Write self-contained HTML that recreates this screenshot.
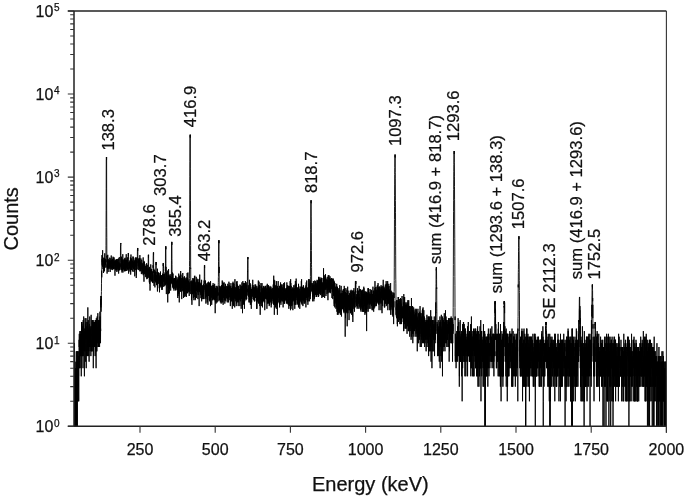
<!DOCTYPE html>
<html><head><meta charset="utf-8"><style>
html,body{margin:0;padding:0;background:#fff;overflow:hidden}
svg{display:block;filter:blur(0.35px)}
text{font-family:"Liberation Sans",sans-serif;fill:#111;stroke:#111;stroke-width:0.25px}
</style></head><body>
<svg width="685" height="498" viewBox="0 0 685 498">
<defs><clipPath id="pc"><rect x="74.0" y="11.0" width="592.4" height="416.0"/></clipPath></defs>
<g clip-path="url(#pc)"><polyline fill="none" stroke="#000" stroke-width="0.9" stroke-linejoin="round" points="74.00,376.3 74.06,386.7 74.12,376.3 74.18,368.2 74.24,426.3 74.30,376.3 74.36,426.3 74.42,343.2 74.48,376.3 74.54,386.7 74.60,401.3 74.66,386.7 74.72,401.3 74.78,386.7 74.84,386.7 74.90,376.3 74.96,376.3 75.02,386.7 75.08,386.7 75.14,376.3 75.20,426.3 75.26,368.2 75.32,401.3 75.38,386.7 75.44,376.3 75.50,401.3 75.56,401.3 75.62,376.3 75.68,386.7 75.74,426.3 75.80,386.7 75.86,361.7 75.93,376.3 75.99,376.3 76.05,426.3 76.11,368.2 76.17,386.7 76.23,356.1 76.29,351.3 76.35,401.3 76.41,426.3 76.47,401.3 76.53,361.7 76.59,368.2 76.65,386.7 76.71,401.3 76.77,401.3 76.83,426.3 76.89,386.7 76.95,386.7 77.01,368.2 77.07,351.3 77.13,368.2 77.19,351.3 77.25,368.2 77.31,426.3 77.37,386.7 77.43,368.2 77.49,368.2 77.55,368.2 77.61,386.7 77.67,401.3 77.73,361.7 77.79,386.7 77.85,368.2 77.91,368.2 77.97,351.3 78.03,361.7 78.09,401.3 78.15,368.2 78.21,368.2 78.27,386.7 78.33,376.3 78.39,376.3 78.45,386.7 78.51,361.7 78.57,376.3 78.63,356.1 78.69,376.3 78.75,401.3 78.81,368.2 78.87,351.3 78.93,351.3 78.99,356.1 79.05,368.2 79.11,361.7 79.17,339.8 79.23,347.0 79.29,333.8 79.35,368.2 79.41,343.2 79.47,339.8 79.53,343.2 79.59,361.7 79.66,339.8 79.72,336.7 79.78,351.3 79.84,343.2 79.90,331.1 79.96,356.1 80.02,347.0 80.08,351.3 80.14,339.8 80.20,351.3 80.26,336.7 80.32,351.3 80.38,343.2 80.44,333.8 80.50,356.1 80.56,347.0 80.62,339.8 80.68,333.8 80.74,331.1 80.80,336.7 80.86,368.2 80.92,336.7 80.98,356.1 81.04,333.8 81.10,351.3 81.16,343.2 81.22,347.0 81.28,376.3 81.34,347.0 81.40,331.1 81.46,339.8 81.52,322.0 81.58,356.1 81.64,333.8 81.70,347.0 81.76,343.2 81.82,343.2 81.88,324.1 81.94,333.8 82.00,322.0 82.06,347.0 82.12,356.1 82.18,333.8 82.24,331.1 82.30,328.6 82.36,356.1 82.42,351.3 82.48,347.0 82.54,343.2 82.60,326.3 82.66,356.1 82.72,331.1 82.78,331.1 82.84,333.8 82.90,326.3 82.96,347.0 83.02,368.2 83.08,333.8 83.14,351.3 83.20,320.1 83.26,333.8 83.32,356.1 83.38,356.1 83.45,351.3 83.51,328.6 83.57,343.2 83.63,347.0 83.69,316.5 83.75,333.8 83.81,347.0 83.87,333.8 83.93,343.2 83.99,328.6 84.05,336.7 84.11,331.1 84.17,333.8 84.23,336.7 84.29,336.7 84.35,368.2 84.41,376.3 84.47,333.8 84.53,343.2 84.59,351.3 84.65,331.1 84.71,336.7 84.77,339.8 84.83,339.8 84.89,328.6 84.95,331.1 85.01,331.1 85.07,318.2 85.13,331.1 85.19,331.1 85.25,347.0 85.31,351.3 85.37,333.8 85.43,336.7 85.49,324.1 85.55,339.8 85.61,343.2 85.67,361.7 85.73,343.2 85.79,328.6 85.85,339.8 85.91,322.0 85.97,336.7 86.03,318.2 86.09,336.7 86.15,356.1 86.21,368.2 86.27,331.1 86.33,331.1 86.39,339.8 86.45,356.1 86.51,351.3 86.57,351.3 86.63,326.3 86.69,328.6 86.75,333.8 86.81,336.7 86.87,336.7 86.93,333.8 86.99,333.8 87.05,347.0 87.11,322.0 87.18,324.1 87.24,331.1 87.30,336.7 87.36,343.2 87.42,343.2 87.48,324.1 87.54,356.1 87.60,322.0 87.66,333.8 87.72,339.8 87.78,339.8 87.84,307.4 87.90,351.3 87.96,347.0 88.02,339.8 88.08,343.2 88.14,331.1 88.20,339.8 88.26,320.1 88.32,339.8 88.38,333.8 88.44,336.7 88.50,339.8 88.56,351.3 88.62,343.2 88.68,356.1 88.74,328.6 88.80,328.6 88.86,339.8 88.92,328.6 88.98,347.0 89.04,343.2 89.10,361.7 89.16,326.3 89.22,333.8 89.28,331.1 89.34,324.1 89.40,336.7 89.46,339.8 89.52,333.8 89.58,343.2 89.64,347.0 89.70,347.0 89.76,316.5 89.82,343.2 89.88,343.2 89.94,331.1 90.00,336.7 90.06,331.1 90.12,351.3 90.18,336.7 90.24,339.8 90.30,326.3 90.36,343.2 90.42,339.8 90.48,343.2 90.54,343.2 90.60,328.6 90.66,347.0 90.72,339.8 90.78,351.3 90.84,351.3 90.90,356.1 90.97,336.7 91.03,336.7 91.09,326.3 91.15,314.8 91.21,324.1 91.27,336.7 91.33,328.6 91.39,326.3 91.45,351.3 91.51,343.2 91.57,339.8 91.63,339.8 91.69,336.7 91.75,333.8 91.81,336.7 91.87,351.3 91.93,343.2 91.99,322.0 92.05,320.1 92.11,333.8 92.17,333.8 92.23,351.3 92.29,331.1 92.35,347.0 92.41,322.0 92.47,326.3 92.53,336.7 92.59,322.0 92.65,320.1 92.71,343.2 92.77,339.8 92.83,336.7 92.89,347.0 92.95,347.0 93.01,331.1 93.07,339.8 93.13,328.6 93.19,320.1 93.25,343.2 93.31,368.2 93.37,339.8 93.43,331.1 93.49,322.0 93.55,343.2 93.61,333.8 93.67,356.1 93.73,343.2 93.79,331.1 93.85,322.0 93.91,333.8 93.97,322.0 94.03,324.1 94.09,333.8 94.15,343.2 94.21,343.2 94.27,328.6 94.33,347.0 94.39,322.0 94.45,333.8 94.51,333.8 94.57,343.2 94.63,322.0 94.70,324.1 94.76,347.0 94.82,333.8 94.88,331.1 94.94,347.0 95.00,326.3 95.06,343.2 95.12,333.8 95.18,320.1 95.24,356.1 95.30,339.8 95.36,328.6 95.42,326.3 95.48,336.7 95.54,324.1 95.60,320.1 95.66,343.2 95.72,336.7 95.78,339.8 95.84,322.0 95.90,331.1 95.96,351.3 96.02,339.8 96.08,368.2 96.14,331.1 96.20,333.8 96.26,347.0 96.32,318.2 96.38,324.1 96.44,322.0 96.50,343.2 96.56,343.2 96.62,351.3 96.68,324.1 96.74,328.6 96.80,351.3 96.86,343.2 96.92,320.1 96.98,343.2 97.04,343.2 97.10,326.3 97.16,316.5 97.22,324.1 97.28,336.7 97.34,328.6 97.40,339.8 97.46,326.3 97.52,333.8 97.58,343.2 97.64,336.7 97.70,331.1 97.76,339.8 97.82,313.2 97.88,318.2 97.94,326.3 98.00,328.6 98.06,347.0 98.12,331.1 98.18,322.0 98.24,347.0 98.30,326.3 98.36,320.1 98.42,333.8 98.49,343.2 98.55,347.0 98.61,331.1 98.67,331.1 98.73,322.0 98.79,343.2 98.85,336.7 98.91,333.8 98.97,320.1 99.03,343.2 99.09,328.6 99.15,336.7 99.21,333.8 99.27,333.8 99.33,324.1 99.39,328.6 99.45,333.8 99.51,333.8 99.57,347.0 99.63,324.1 99.69,336.7 99.75,336.7 99.81,320.1 99.87,328.6 99.93,311.7 99.99,331.1 100.05,316.5 100.11,336.7 100.17,320.1 100.23,331.1 100.29,328.6 100.35,328.6 100.41,322.0 100.47,339.8 100.53,343.2 100.59,328.6 100.65,331.1 100.71,310.2 100.77,300.2 100.83,304.8 100.89,299.1 100.95,307.4 101.01,296.0 101.07,311.7 101.13,296.0 101.19,300.2 101.25,297.0 101.31,295.1 101.37,294.1 101.43,291.5 101.49,283.8 101.55,278.0 101.61,276.8 101.67,270.6 101.73,277.4 101.79,271.0 101.85,265.2 101.91,260.2 101.97,255.1 102.03,261.7 102.09,258.8 102.15,265.6 102.22,261.7 102.28,261.3 102.34,263.6 102.40,262.8 102.46,261.3 102.52,264.8 102.58,265.6 102.64,250.2 102.70,266.9 102.76,264.8 102.82,264.4 102.88,261.7 102.94,264.4 103.00,269.1 103.06,264.8 103.12,263.6 103.18,261.3 103.24,264.4 103.30,262.0 103.36,261.3 103.42,262.4 103.48,266.5 103.54,273.0 103.60,265.2 103.66,257.7 103.72,263.6 103.78,260.5 103.84,263.2 103.90,265.2 103.96,262.0 104.02,260.2 104.08,267.3 104.14,269.6 104.20,271.5 104.26,259.1 104.32,260.9 104.38,266.0 104.44,266.0 104.50,271.0 104.56,264.8 104.62,258.1 104.68,265.2 104.74,253.3 104.80,258.4 104.86,264.8 104.92,266.9 104.98,264.0 105.04,263.6 105.10,262.0 105.16,267.8 105.22,258.8 105.28,263.6 105.34,261.7 105.40,263.2 105.46,264.8 105.52,264.0 105.58,262.0 105.64,263.6 105.70,261.3 105.76,259.5 105.82,261.7 105.88,260.5 105.94,262.0 106.01,245.3 106.07,227.7 106.13,210.4 106.19,188.4 106.25,160.0 106.31,160.0 106.37,157.3 106.43,157.0 106.49,160.0 106.55,160.0 106.61,157.0 106.67,205.0 106.73,227.9 106.79,237.4 106.85,257.4 106.91,256.1 106.97,267.3 107.03,264.4 107.09,273.6 107.15,255.5 107.21,265.2 107.27,265.2 107.33,268.2 107.39,259.8 107.45,268.2 107.51,263.6 107.57,265.2 107.63,264.4 107.69,266.9 107.75,254.8 107.81,263.6 107.87,258.8 107.93,260.9 107.99,269.1 108.05,259.1 108.11,272.0 108.17,260.9 108.23,264.4 108.29,268.2 108.35,267.3 108.41,263.2 108.47,264.4 108.53,262.8 108.59,268.2 108.65,266.5 108.71,266.5 108.77,260.2 108.83,264.0 108.89,266.5 108.95,262.8 109.01,264.4 109.07,266.0 109.13,264.4 109.19,266.9 109.25,260.5 109.31,265.2 109.37,262.4 109.43,260.2 109.49,262.4 109.55,266.9 109.61,260.5 109.67,268.7 109.74,257.7 109.80,264.0 109.86,265.2 109.92,266.9 109.98,260.5 110.04,265.2 110.10,266.9 110.16,272.0 110.22,261.7 110.28,265.2 110.34,262.4 110.40,262.4 110.46,264.8 110.52,262.8 110.58,263.2 110.64,261.3 110.70,267.3 110.76,258.4 110.82,269.1 110.88,268.2 110.94,262.4 111.00,261.7 111.06,264.4 111.12,262.4 111.18,258.8 111.24,255.5 111.30,259.8 111.36,268.2 111.42,267.3 111.48,264.4 111.54,259.8 111.60,262.0 111.66,269.6 111.72,264.8 111.78,265.2 111.84,264.4 111.90,264.8 111.96,260.5 112.02,267.8 112.08,261.3 112.14,266.5 112.20,264.4 112.26,266.5 112.32,266.5 112.38,260.5 112.44,268.2 112.50,266.0 112.56,258.8 112.62,261.3 112.68,270.1 112.74,260.5 112.80,265.2 112.86,262.0 112.92,259.5 112.98,260.9 113.04,256.7 113.10,264.4 113.16,268.7 113.22,262.4 113.28,267.8 113.34,264.0 113.40,260.5 113.46,257.7 113.53,269.1 113.59,263.2 113.65,263.2 113.71,262.0 113.77,266.0 113.83,266.0 113.89,262.8 113.95,268.7 114.01,263.6 114.07,257.4 114.13,265.6 114.19,268.7 114.25,263.2 114.31,262.8 114.37,264.8 114.43,263.2 114.49,265.6 114.55,260.9 114.61,262.8 114.67,263.2 114.73,261.3 114.79,261.3 114.85,266.9 114.91,270.1 114.97,275.7 115.03,262.4 115.09,259.5 115.15,264.4 115.21,261.7 115.27,260.2 115.33,263.6 115.39,269.6 115.45,262.8 115.51,266.0 115.57,268.2 115.63,264.8 115.69,260.9 115.75,264.4 115.81,266.9 115.87,270.6 115.93,266.0 115.99,264.8 116.05,262.4 116.11,268.7 116.17,262.8 116.23,264.0 116.29,260.5 116.35,261.3 116.41,259.8 116.47,265.6 116.53,270.1 116.59,270.1 116.65,263.2 116.71,259.5 116.77,270.1 116.83,259.1 116.89,272.0 116.95,262.4 117.01,265.2 117.07,260.5 117.13,268.7 117.19,263.2 117.26,268.7 117.32,261.3 117.38,264.0 117.44,263.6 117.50,261.7 117.56,261.3 117.62,262.0 117.68,266.9 117.74,259.1 117.80,262.0 117.86,261.3 117.92,270.6 117.98,267.8 118.04,263.6 118.10,265.2 118.16,267.8 118.22,265.6 118.28,260.5 118.34,260.9 118.40,258.4 118.46,261.7 118.52,266.0 118.58,263.6 118.64,273.6 118.70,268.2 118.76,262.4 118.82,262.8 118.88,270.6 118.94,262.0 119.00,268.2 119.06,266.5 119.12,269.1 119.18,264.4 119.24,268.7 119.30,257.1 119.36,262.4 119.42,265.6 119.48,265.6 119.54,266.5 119.60,263.6 119.66,267.8 119.72,270.1 119.78,267.3 119.84,270.1 119.90,264.4 119.96,266.0 120.02,265.2 120.08,265.6 120.14,263.6 120.20,264.4 120.26,267.3 120.32,266.0 120.38,262.4 120.44,255.8 120.50,246.0 120.56,246.0 120.62,246.0 120.68,243.0 120.74,243.0 120.80,243.5 120.86,243.0 120.92,259.5 120.98,258.8 121.05,264.0 121.11,269.1 121.17,267.8 121.23,260.2 121.29,267.8 121.35,262.0 121.41,267.8 121.47,270.1 121.53,256.7 121.59,264.0 121.65,267.3 121.71,257.7 121.77,260.2 121.83,267.8 121.89,263.2 121.95,272.5 122.01,260.9 122.07,260.2 122.13,263.2 122.19,259.5 122.25,266.5 122.31,264.4 122.37,271.0 122.43,264.4 122.49,263.2 122.55,261.7 122.61,266.0 122.67,262.8 122.73,270.1 122.79,254.2 122.85,269.1 122.91,266.0 122.97,272.5 123.03,265.6 123.09,264.0 123.15,266.5 123.21,259.5 123.27,266.5 123.33,265.2 123.39,269.1 123.45,266.0 123.51,267.8 123.57,267.3 123.63,269.1 123.69,267.3 123.75,262.4 123.81,261.7 123.87,260.5 123.93,267.3 123.99,269.6 124.05,266.9 124.11,266.5 124.17,259.5 124.23,259.5 124.29,267.8 124.35,271.0 124.41,266.9 124.47,260.2 124.53,263.6 124.59,267.3 124.65,267.3 124.71,258.4 124.78,266.5 124.84,271.5 124.90,261.3 124.96,260.2 125.02,260.9 125.08,263.6 125.14,257.7 125.20,264.0 125.26,266.0 125.32,259.8 125.38,261.7 125.44,260.2 125.50,266.5 125.56,262.4 125.62,271.0 125.68,260.9 125.74,271.0 125.80,262.4 125.86,263.6 125.92,260.5 125.98,267.3 126.04,260.2 126.10,267.8 126.16,271.0 126.22,254.2 126.28,265.6 126.34,260.2 126.40,267.3 126.46,265.6 126.52,264.0 126.58,265.6 126.64,263.2 126.70,260.9 126.76,268.2 126.82,260.5 126.88,259.8 126.94,267.3 127.00,260.9 127.06,264.0 127.12,270.6 127.18,263.2 127.24,259.8 127.30,262.4 127.36,269.1 127.42,257.4 127.48,262.8 127.54,262.0 127.60,266.5 127.66,266.9 127.72,269.6 127.78,263.6 127.84,263.6 127.90,262.4 127.96,265.2 128.02,260.2 128.08,256.1 128.14,256.0 128.20,253.6 128.26,253.0 128.32,253.0 128.38,255.1 128.44,256.0 128.50,253.0 128.57,259.1 128.63,273.6 128.69,262.8 128.75,267.3 128.81,266.9 128.87,269.1 128.93,268.2 128.99,269.6 129.05,266.5 129.11,266.0 129.17,264.0 129.23,262.0 129.29,264.8 129.35,268.2 129.41,262.4 129.47,267.8 129.53,268.2 129.59,262.8 129.65,266.5 129.71,260.5 129.77,266.9 129.83,265.2 129.89,265.6 129.95,263.6 130.01,266.5 130.07,271.5 130.13,267.3 130.19,266.0 130.25,271.5 130.31,271.5 130.37,265.6 130.43,257.4 130.49,265.6 130.55,258.4 130.61,260.5 130.67,274.6 130.73,259.8 130.79,269.6 130.85,266.5 130.91,260.5 130.97,254.5 131.03,269.6 131.09,261.7 131.15,270.1 131.21,265.6 131.27,258.4 131.33,264.8 131.39,263.6 131.45,267.3 131.51,263.6 131.57,262.0 131.63,269.6 131.69,258.8 131.75,266.9 131.81,266.0 131.87,262.0 131.93,265.2 131.99,262.8 132.05,265.2 132.11,264.0 132.17,261.3 132.23,261.3 132.30,268.7 132.36,271.5 132.42,271.0 132.48,264.4 132.54,261.3 132.60,266.9 132.66,264.0 132.72,260.5 132.78,262.8 132.84,264.8 132.90,264.8 132.96,259.1 133.02,256.4 133.08,268.2 133.14,266.0 133.20,257.1 133.26,264.0 133.32,262.0 133.38,267.3 133.44,269.1 133.50,262.8 133.56,263.6 133.62,268.2 133.68,266.5 133.74,265.6 133.80,265.2 133.86,267.8 133.92,268.7 133.98,272.0 134.04,265.6 134.10,263.6 134.16,265.6 134.22,269.1 134.28,260.5 134.34,264.0 134.40,271.0 134.46,263.2 134.52,270.1 134.58,264.4 134.64,267.3 134.70,262.0 134.76,276.3 134.82,269.1 134.88,263.2 134.94,261.3 135.00,262.4 135.06,260.2 135.12,263.2 135.18,258.4 135.24,262.4 135.30,265.2 135.36,266.0 135.42,257.4 135.48,266.5 135.54,264.4 135.60,261.7 135.66,270.1 135.72,266.9 135.78,264.0 135.84,265.2 135.90,260.5 135.96,263.6 136.02,266.9 136.09,266.5 136.15,260.9 136.21,266.9 136.27,278.0 136.33,267.8 136.39,263.6 136.45,266.0 136.51,274.6 136.57,258.1 136.63,269.1 136.69,266.5 136.75,263.6 136.81,269.1 136.87,264.4 136.93,265.6 136.99,257.1 137.05,269.6 137.11,266.0 137.17,263.2 137.23,259.8 137.29,259.5 137.35,260.2 137.41,251.1 137.47,249.1 137.53,248.0 137.59,248.0 137.65,248.0 137.71,251.1 137.77,248.0 137.83,254.8 137.89,262.0 137.95,263.6 138.01,261.3 138.07,263.2 138.13,262.0 138.19,260.9 138.25,259.5 138.31,264.0 138.37,264.4 138.43,265.6 138.49,261.3 138.55,267.3 138.61,266.5 138.67,270.1 138.73,263.6 138.79,259.5 138.85,262.0 138.91,266.0 138.97,258.4 139.03,263.6 139.09,260.9 139.15,265.2 139.21,258.1 139.27,266.0 139.33,261.3 139.39,269.1 139.45,263.2 139.51,264.8 139.57,258.4 139.63,267.3 139.69,267.3 139.75,261.7 139.82,263.2 139.88,255.1 139.94,266.5 140.00,271.5 140.06,264.0 140.12,270.6 140.18,261.3 140.24,267.3 140.30,265.2 140.36,271.0 140.42,264.8 140.48,262.4 140.54,262.8 140.60,265.6 140.66,263.6 140.72,262.8 140.78,269.6 140.84,261.7 140.90,258.4 140.96,262.0 141.02,264.8 141.08,269.1 141.14,266.9 141.20,265.6 141.26,266.5 141.32,271.5 141.38,274.1 141.44,264.0 141.50,268.7 141.56,262.8 141.62,267.3 141.68,259.8 141.74,261.7 141.80,262.0 141.86,264.0 141.92,266.0 141.98,265.2 142.04,264.0 142.10,264.4 142.16,267.3 142.22,271.0 142.28,267.3 142.34,265.2 142.40,273.6 142.46,269.6 142.52,266.9 142.58,266.0 142.64,269.6 142.70,263.6 142.76,267.3 142.82,268.2 142.88,264.4 142.94,272.5 143.00,263.2 143.06,266.0 143.12,264.0 143.18,257.4 143.24,275.2 143.30,264.8 143.36,263.6 143.42,264.0 143.48,264.4 143.54,274.1 143.61,266.0 143.67,262.0 143.73,274.1 143.79,270.6 143.85,262.8 143.91,271.0 143.97,281.7 144.03,260.9 144.09,271.0 144.15,263.6 144.21,274.1 144.27,264.8 144.33,272.5 144.39,271.5 144.45,271.0 144.51,262.0 144.57,264.0 144.63,265.2 144.69,268.2 144.75,274.1 144.81,270.1 144.87,269.1 144.93,266.9 144.99,271.5 145.05,272.0 145.11,269.6 145.17,267.3 145.23,273.0 145.29,267.3 145.35,266.0 145.41,276.8 145.47,273.0 145.53,271.0 145.59,273.6 145.65,273.0 145.71,267.8 145.77,271.5 145.83,270.6 145.89,270.1 145.95,270.6 146.01,271.5 146.07,264.4 146.13,270.6 146.19,277.4 146.25,266.0 146.31,274.1 146.37,272.0 146.43,269.1 146.49,268.7 146.55,270.1 146.61,272.0 146.67,263.2 146.73,270.6 146.79,279.2 146.85,276.8 146.91,275.7 146.97,269.1 147.03,271.0 147.09,275.2 147.15,275.7 147.21,272.0 147.27,273.0 147.34,278.6 147.40,273.6 147.46,270.6 147.52,273.0 147.58,268.2 147.64,278.0 147.70,264.8 147.76,269.6 147.82,275.2 147.88,269.1 147.94,271.5 148.00,270.6 148.06,272.5 148.12,275.7 148.18,271.0 148.24,255.8 148.30,254.8 148.36,254.8 148.42,254.8 148.48,257.8 148.54,256.1 148.60,254.8 148.66,272.5 148.72,269.1 148.78,277.4 148.84,268.2 148.90,274.6 148.96,271.5 149.02,275.2 149.08,278.0 149.14,271.5 149.20,270.1 149.26,275.7 149.32,282.4 149.38,273.6 149.44,267.8 149.50,266.9 149.56,283.8 149.62,276.8 149.68,273.6 149.74,274.6 149.80,273.6 149.86,280.5 149.92,281.7 149.98,272.5 150.04,290.6 150.10,279.8 150.16,278.0 150.22,277.4 150.28,272.0 150.34,270.1 150.40,275.7 150.46,279.8 150.52,279.8 150.58,278.0 150.64,279.2 150.70,274.6 150.76,264.4 150.82,277.4 150.88,278.0 150.94,268.7 151.00,272.0 151.06,272.5 151.13,273.6 151.19,272.5 151.25,275.2 151.31,279.2 151.37,281.1 151.43,277.4 151.49,276.3 151.55,276.8 151.61,269.1 151.67,270.1 151.73,274.6 151.79,271.0 151.85,275.7 151.91,281.7 151.97,272.5 152.03,275.7 152.09,273.0 152.15,275.7 152.21,279.8 152.27,275.2 152.33,280.5 152.39,273.0 152.45,282.4 152.51,281.1 152.57,277.4 152.63,271.5 152.69,282.4 152.75,275.2 152.81,281.1 152.87,281.7 152.93,276.3 152.99,283.1 153.05,265.2 153.11,267.8 153.17,262.4 153.23,255.4 153.29,255.4 153.35,252.7 153.41,252.4 153.47,255.4 153.53,255.4 153.59,252.4 153.65,265.2 153.71,273.0 153.77,268.7 153.83,270.6 153.89,272.0 153.95,269.6 154.01,285.9 154.07,281.1 154.13,274.1 154.19,273.0 154.25,276.3 154.31,273.6 154.37,277.4 154.43,274.6 154.49,272.5 154.55,276.3 154.61,275.7 154.67,280.5 154.73,270.1 154.79,276.3 154.86,280.5 154.92,287.4 154.98,276.8 155.04,272.0 155.10,280.5 155.16,272.5 155.22,281.1 155.28,274.6 155.34,277.4 155.40,271.5 155.46,277.4 155.52,279.2 155.58,281.7 155.64,282.4 155.70,271.0 155.76,271.0 155.82,265.0 155.88,265.0 155.94,262.0 156.00,262.0 156.06,265.0 156.12,265.0 156.18,262.0 156.24,270.1 156.30,273.0 156.36,274.6 156.42,279.8 156.48,281.7 156.54,275.2 156.60,276.3 156.66,285.2 156.72,278.0 156.78,275.7 156.84,276.3 156.90,284.5 156.96,279.8 157.02,272.0 157.08,283.1 157.14,278.6 157.20,276.8 157.26,273.6 157.32,275.7 157.38,285.2 157.44,291.5 157.50,268.7 157.56,282.4 157.62,281.1 157.68,279.8 157.74,282.4 157.80,278.6 157.86,278.0 157.92,276.3 157.98,279.8 158.04,279.8 158.10,272.5 158.16,278.6 158.22,281.1 158.28,276.8 158.34,283.8 158.40,279.8 158.46,272.5 158.52,276.8 158.58,276.3 158.65,275.2 158.71,274.1 158.77,278.0 158.83,279.8 158.89,276.8 158.95,276.3 159.01,276.8 159.07,273.0 159.13,279.8 159.19,276.3 159.25,276.8 159.31,288.2 159.37,278.6 159.43,287.4 159.49,292.3 159.55,277.4 159.61,281.1 159.67,276.8 159.73,279.2 159.79,285.9 159.85,278.6 159.91,279.8 159.97,275.2 160.03,285.9 160.09,278.6 160.15,282.4 160.21,278.6 160.27,275.7 160.33,272.5 160.39,283.1 160.45,278.6 160.51,271.5 160.57,278.6 160.63,277.4 160.69,278.6 160.75,287.4 160.81,285.9 160.87,283.1 160.93,285.9 160.99,279.8 161.05,276.8 161.11,281.1 161.17,283.8 161.23,281.7 161.29,279.8 161.35,275.7 161.41,275.7 161.47,282.4 161.53,280.5 161.59,279.8 161.65,283.8 161.71,275.2 161.77,279.2 161.83,277.4 161.89,289.8 161.95,283.8 162.01,275.2 162.07,276.3 162.13,289.8 162.19,276.3 162.25,279.8 162.31,287.4 162.38,283.1 162.44,281.7 162.50,284.5 162.56,281.7 162.62,278.6 162.68,273.6 162.74,280.5 162.80,274.1 162.86,285.9 162.92,286.7 162.98,276.8 163.04,269.1 163.10,266.2 163.16,263.2 163.22,266.2 163.28,263.2 163.34,263.2 163.40,263.2 163.46,263.2 163.52,268.7 163.58,273.6 163.64,281.7 163.70,274.1 163.76,275.2 163.82,286.7 163.88,276.3 163.94,275.2 164.00,279.2 164.06,278.0 164.12,278.6 164.18,278.0 164.24,275.7 164.30,274.1 164.36,281.1 164.42,281.7 164.48,274.1 164.54,274.6 164.60,275.7 164.66,281.1 164.72,285.9 164.78,282.4 164.84,283.1 164.90,282.4 164.96,272.5 165.02,272.5 165.08,278.6 165.14,276.8 165.20,285.2 165.26,278.6 165.32,284.5 165.38,266.5 165.44,271.0 165.50,249.3 165.56,247.5 165.62,249.3 165.68,246.3 165.74,246.3 165.80,249.3 165.86,246.3 165.92,263.6 165.98,272.0 166.04,266.9 166.10,276.8 166.17,281.7 166.23,278.0 166.29,272.5 166.35,294.1 166.41,278.0 166.47,280.5 166.53,276.8 166.59,272.0 166.65,281.7 166.71,283.1 166.77,277.4 166.83,283.8 166.89,278.0 166.95,281.7 167.01,283.8 167.07,283.1 167.13,278.0 167.19,278.6 167.25,284.5 167.31,283.8 167.37,270.6 167.43,285.2 167.49,278.6 167.55,281.7 167.61,283.8 167.67,283.1 167.73,302.4 167.79,279.2 167.85,281.1 167.91,281.7 167.97,282.4 168.03,278.6 168.09,275.7 168.15,284.5 168.21,288.2 168.27,275.2 168.33,294.1 168.39,279.8 168.45,287.4 168.51,285.2 168.57,269.1 168.63,274.1 168.69,285.9 168.75,283.1 168.81,283.1 168.87,286.7 168.93,285.9 168.99,293.2 169.05,279.8 169.11,278.6 169.17,276.3 169.23,293.2 169.29,279.2 169.35,281.1 169.41,278.6 169.47,278.6 169.53,281.7 169.59,286.7 169.65,289.0 169.71,279.2 169.77,281.1 169.83,275.2 169.90,276.3 169.96,276.8 170.02,279.8 170.08,279.2 170.14,274.1 170.20,282.4 170.26,276.3 170.32,286.7 170.38,283.8 170.44,283.1 170.50,276.3 170.56,282.4 170.62,288.2 170.68,290.6 170.74,288.2 170.80,278.0 170.86,283.1 170.92,277.4 170.98,282.4 171.04,283.8 171.10,281.7 171.16,277.4 171.22,283.1 171.28,278.0 171.34,283.1 171.40,274.1 171.46,260.9 171.52,244.9 171.58,244.9 171.64,244.9 171.70,241.9 171.76,241.9 171.82,244.9 171.88,241.9 171.94,258.8 172.00,264.4 172.06,279.2 172.12,275.7 172.18,273.6 172.24,278.0 172.30,284.5 172.36,277.4 172.42,278.0 172.48,272.5 172.54,279.8 172.60,283.8 172.66,286.7 172.72,284.5 172.78,285.9 172.84,285.9 172.90,287.4 172.96,288.2 173.02,273.6 173.08,284.5 173.14,281.1 173.20,279.8 173.26,287.4 173.32,280.5 173.38,285.2 173.44,278.6 173.50,288.2 173.56,286.7 173.62,289.0 173.69,286.7 173.75,284.5 173.81,289.0 173.87,279.2 173.93,284.5 173.99,290.6 174.05,288.2 174.11,281.1 174.17,283.8 174.23,281.7 174.29,278.0 174.35,283.1 174.41,283.1 174.47,284.5 174.53,278.0 174.59,278.0 174.65,279.2 174.71,283.8 174.77,285.2 174.83,288.2 174.89,281.7 174.95,281.1 175.01,284.5 175.07,286.7 175.13,281.7 175.19,285.9 175.25,281.1 175.31,282.4 175.37,281.7 175.43,283.8 175.49,276.8 175.55,289.8 175.61,281.7 175.67,275.7 175.73,284.5 175.79,290.6 175.85,276.3 175.91,278.6 175.97,286.7 176.03,283.1 176.09,285.9 176.15,284.5 176.21,282.4 176.27,283.8 176.33,286.7 176.39,281.7 176.45,283.1 176.51,280.5 176.57,285.2 176.63,281.1 176.69,282.4 176.75,281.7 176.81,283.8 176.87,288.2 176.93,277.4 176.99,289.8 177.05,283.1 177.11,283.1 177.17,287.4 177.23,287.4 177.29,281.1 177.35,287.4 177.42,284.5 177.48,289.8 177.54,283.8 177.60,280.5 177.66,284.5 177.72,280.5 177.78,298.0 177.84,279.2 177.90,283.8 177.96,296.0 178.02,296.0 178.08,284.5 178.14,277.4 178.20,282.4 178.26,280.5 178.32,281.1 178.38,281.7 178.44,293.2 178.50,286.7 178.56,283.1 178.62,285.2 178.68,291.5 178.74,273.6 178.80,285.9 178.86,283.8 178.92,294.1 178.98,284.5 179.04,285.9 179.10,279.8 179.16,284.5 179.22,280.5 179.28,302.4 179.34,283.8 179.40,283.8 179.46,288.2 179.52,285.9 179.58,276.8 179.64,279.2 179.70,283.8 179.76,275.7 179.82,281.7 179.88,278.6 179.94,283.8 180.00,276.8 180.06,285.2 180.12,282.4 180.18,283.1 180.24,288.2 180.30,279.8 180.36,285.2 180.42,274.6 180.48,290.6 180.54,289.8 180.60,291.5 180.66,271.0 180.72,291.5 180.78,283.8 180.84,278.6 180.90,281.1 180.96,274.6 181.02,289.0 181.08,278.6 181.14,285.9 181.21,285.9 181.27,287.4 181.33,282.4 181.39,287.4 181.45,285.2 181.51,281.1 181.57,281.7 181.63,285.2 181.69,288.2 181.75,299.1 181.81,278.0 181.87,290.6 181.93,291.5 181.99,285.2 182.05,282.4 182.11,278.6 182.17,281.1 182.23,278.6 182.29,279.8 182.35,290.6 182.41,284.5 182.47,288.2 182.53,282.4 182.59,276.3 182.65,287.4 182.71,278.0 182.77,273.0 182.83,283.8 182.89,287.4 182.95,281.7 183.01,290.6 183.07,289.0 183.13,289.0 183.19,279.8 183.25,286.7 183.31,279.2 183.37,279.2 183.43,281.1 183.49,289.0 183.55,298.0 183.61,283.1 183.67,289.8 183.73,282.4 183.79,277.4 183.85,283.8 183.91,291.5 183.97,289.0 184.03,281.7 184.09,285.2 184.15,291.5 184.21,294.1 184.27,285.2 184.33,282.4 184.39,288.2 184.45,281.7 184.51,276.3 184.57,283.1 184.63,289.8 184.69,280.5 184.75,297.0 184.81,288.2 184.87,285.2 184.94,294.1 185.00,279.8 185.06,278.0 185.12,290.6 185.18,285.9 185.24,296.0 185.30,281.1 185.36,285.2 185.42,280.5 185.48,285.2 185.54,289.0 185.60,283.8 185.66,286.7 185.72,283.8 185.78,279.8 185.84,283.1 185.90,281.1 185.96,283.8 186.02,279.2 186.08,292.3 186.14,285.9 186.20,277.4 186.26,287.4 186.32,289.0 186.38,297.0 186.44,290.6 186.50,293.2 186.56,288.2 186.62,287.4 186.68,282.4 186.74,289.8 186.80,288.2 186.86,284.5 186.92,278.6 186.98,286.7 187.04,289.0 187.10,276.3 187.16,273.0 187.22,280.5 187.28,284.5 187.34,286.7 187.40,289.0 187.46,281.7 187.52,278.0 187.58,293.2 187.64,286.7 187.70,293.2 187.76,287.4 187.82,278.6 187.88,281.1 187.94,272.5 188.00,283.8 188.06,287.4 188.12,282.4 188.18,291.5 188.24,285.2 188.30,281.1 188.36,289.0 188.42,281.1 188.48,286.7 188.54,282.4 188.60,291.5 188.66,280.5 188.73,285.9 188.79,281.7 188.85,289.0 188.91,283.1 188.97,283.1 189.03,288.2 189.09,283.1 189.15,282.4 189.21,296.0 189.27,285.2 189.33,286.7 189.39,292.3 189.45,278.6 189.51,266.5 189.57,260.2 189.63,240.8 189.69,216.1 189.75,194.1 189.81,176.2 189.87,161.7 189.93,137.7 189.99,137.7 190.05,135.4 190.11,134.7 190.17,137.4 190.23,137.7 190.29,134.7 190.35,168.1 190.41,185.0 190.47,200.8 190.53,224.2 190.59,245.6 190.65,268.7 190.71,267.8 190.77,294.1 190.83,281.1 190.89,284.5 190.95,290.6 191.01,289.8 191.07,290.6 191.13,289.8 191.19,281.7 191.25,293.2 191.31,284.5 191.37,285.2 191.43,285.9 191.49,300.2 191.55,282.4 191.61,287.4 191.67,289.8 191.73,280.5 191.79,285.2 191.85,283.1 191.91,304.8 191.97,285.2 192.03,285.9 192.09,289.0 192.15,289.0 192.21,294.1 192.27,285.9 192.33,292.3 192.39,282.4 192.46,283.8 192.52,282.4 192.58,294.1 192.64,283.8 192.70,294.1 192.76,278.0 192.82,278.6 192.88,291.5 192.94,281.1 193.00,293.2 193.06,293.2 193.12,288.2 193.18,291.5 193.24,289.0 193.30,279.8 193.36,288.2 193.42,298.0 193.48,283.8 193.54,289.0 193.60,288.2 193.66,278.6 193.72,286.7 193.78,286.7 193.84,283.8 193.90,300.2 193.96,283.8 194.02,293.2 194.08,278.6 194.14,289.8 194.20,295.1 194.26,297.0 194.32,285.9 194.38,284.5 194.44,276.3 194.50,293.2 194.56,289.8 194.62,282.4 194.68,290.6 194.74,287.4 194.80,275.7 194.86,288.2 194.92,288.2 194.98,281.7 195.04,283.1 195.10,282.4 195.16,284.5 195.22,300.2 195.28,284.5 195.34,289.0 195.40,287.4 195.46,299.1 195.52,285.9 195.58,287.4 195.64,287.4 195.70,283.1 195.76,289.0 195.82,286.7 195.88,290.6 195.94,285.9 196.00,290.6 196.06,288.2 196.12,279.8 196.18,276.8 196.25,278.0 196.31,291.5 196.37,291.5 196.43,292.3 196.49,298.0 196.55,294.1 196.61,288.2 196.67,289.0 196.73,290.6 196.79,290.6 196.85,281.7 196.91,281.1 196.97,278.6 197.03,289.8 197.09,279.8 197.15,288.2 197.21,289.8 197.27,285.2 197.33,286.7 197.39,286.7 197.45,285.2 197.51,292.3 197.57,289.8 197.63,284.5 197.69,281.7 197.75,282.4 197.81,290.6 197.87,291.5 197.93,299.1 197.99,283.8 198.05,279.2 198.11,294.1 198.17,295.1 198.23,283.1 198.29,282.4 198.35,283.8 198.41,289.8 198.47,285.9 198.53,286.7 198.59,284.5 198.65,290.6 198.71,291.5 198.77,282.4 198.83,283.8 198.89,288.2 198.95,285.2 199.01,286.7 199.07,295.1 199.13,306.1 199.19,296.0 199.25,292.3 199.31,289.0 199.37,291.5 199.43,278.6 199.49,291.5 199.55,279.2 199.61,289.8 199.67,289.0 199.73,274.6 199.79,286.7 199.85,282.4 199.91,291.5 199.98,291.5 200.04,284.5 200.10,289.8 200.16,285.2 200.22,288.2 200.28,293.2 200.34,286.7 200.40,291.5 200.46,285.9 200.52,289.0 200.58,293.2 200.64,283.8 200.70,285.2 200.76,288.2 200.82,295.1 200.88,289.0 200.94,298.0 201.00,283.1 201.06,283.8 201.12,290.6 201.18,284.5 201.24,284.5 201.30,295.1 201.36,289.0 201.42,299.1 201.48,288.2 201.54,295.1 201.60,279.8 201.66,301.3 201.72,290.6 201.78,289.8 201.84,289.0 201.90,290.6 201.96,299.1 202.02,285.2 202.08,289.0 202.14,286.7 202.20,290.6 202.26,288.2 202.32,286.7 202.38,297.0 202.44,287.4 202.50,295.1 202.56,295.1 202.62,286.7 202.68,294.1 202.74,286.7 202.80,290.6 202.86,292.3 202.92,299.1 202.98,285.9 203.04,293.2 203.10,285.2 203.16,289.0 203.22,289.0 203.28,291.5 203.34,285.9 203.40,296.0 203.46,296.0 203.52,285.2 203.58,283.8 203.64,299.1 203.70,296.0 203.77,294.1 203.83,285.9 203.89,288.2 203.95,286.7 204.01,285.9 204.07,285.2 204.13,280.5 204.19,283.8 204.25,283.8 204.31,268.2 204.37,265.2 204.43,265.2 204.49,265.2 204.55,268.2 204.61,268.2 204.67,265.2 204.73,276.8 204.79,289.8 204.85,285.2 204.91,287.4 204.97,286.7 205.03,299.1 205.09,285.2 205.15,287.4 205.21,289.0 205.27,291.5 205.33,292.3 205.39,285.9 205.45,294.1 205.51,280.5 205.57,292.3 205.63,298.0 205.69,285.2 205.75,290.6 205.81,292.3 205.87,290.6 205.93,303.6 205.99,289.0 206.05,289.8 206.11,297.0 206.17,285.9 206.23,289.8 206.29,284.5 206.35,292.3 206.41,296.0 206.47,293.2 206.53,291.5 206.59,284.5 206.65,285.2 206.71,295.1 206.77,286.7 206.83,294.1 206.89,290.6 206.95,294.1 207.01,283.1 207.07,290.6 207.13,299.1 207.19,285.9 207.25,302.4 207.31,292.3 207.37,285.2 207.43,289.0 207.50,293.2 207.56,295.1 207.62,289.8 207.68,300.2 207.74,294.1 207.80,290.6 207.86,282.4 207.92,304.8 207.98,290.6 208.04,293.2 208.10,293.2 208.16,290.6 208.22,285.9 208.28,287.4 208.34,296.0 208.40,293.2 208.46,281.7 208.52,294.1 208.58,287.4 208.64,290.6 208.70,296.0 208.76,296.0 208.82,291.5 208.88,283.1 208.94,290.6 209.00,284.5 209.06,286.7 209.12,293.2 209.18,290.6 209.24,282.4 209.30,289.0 209.36,290.6 209.42,294.1 209.48,290.6 209.54,300.2 209.60,289.0 209.66,301.3 209.72,283.8 209.78,292.3 209.84,283.1 209.90,297.0 209.96,294.1 210.02,295.1 210.08,283.8 210.14,285.2 210.20,295.1 210.26,300.2 210.32,293.2 210.38,285.2 210.44,292.3 210.50,306.1 210.56,281.1 210.62,283.8 210.68,289.0 210.74,289.8 210.80,289.0 210.86,290.6 210.92,289.8 210.98,290.6 211.04,290.6 211.10,290.6 211.16,292.3 211.22,296.0 211.29,297.0 211.35,296.0 211.41,290.6 211.47,295.1 211.53,295.1 211.59,289.8 211.65,285.9 211.71,304.8 211.77,298.0 211.83,288.2 211.89,298.0 211.95,295.1 212.01,293.2 212.07,286.7 212.13,289.0 212.19,287.4 212.25,296.0 212.31,289.0 212.37,285.2 212.43,300.2 212.49,289.8 212.55,289.0 212.61,290.6 212.67,288.2 212.73,293.2 212.79,288.2 212.85,296.0 212.91,292.3 212.97,297.0 213.03,300.2 213.09,283.1 213.15,287.4 213.21,298.0 213.27,290.6 213.33,299.1 213.39,286.7 213.45,293.2 213.51,293.2 213.57,285.2 213.63,290.6 213.69,291.5 213.75,294.1 213.81,296.0 213.87,299.1 213.93,285.2 213.99,292.3 214.05,288.2 214.11,287.4 214.17,299.1 214.23,293.2 214.29,292.3 214.35,294.1 214.41,291.5 214.47,299.1 214.53,300.2 214.59,289.8 214.65,283.8 214.71,289.8 214.77,287.4 214.83,295.1 214.89,296.0 214.95,291.5 215.02,292.3 215.08,293.2 215.14,298.0 215.20,313.2 215.26,299.1 215.32,295.1 215.38,302.4 215.44,288.2 215.50,289.8 215.56,288.2 215.62,297.0 215.68,293.2 215.74,300.2 215.80,297.0 215.86,293.2 215.92,288.2 215.98,298.0 216.04,303.6 216.10,285.9 216.16,302.4 216.22,292.3 216.28,298.0 216.34,291.5 216.40,291.5 216.46,298.0 216.52,294.1 216.58,292.3 216.64,297.0 216.70,292.3 216.76,296.0 216.82,289.0 216.88,292.3 216.94,285.9 217.00,294.1 217.06,291.5 217.12,289.8 217.18,302.4 217.24,300.2 217.30,289.0 217.36,291.5 217.42,291.5 217.48,294.1 217.54,295.1 217.60,286.7 217.66,291.5 217.72,295.1 217.78,288.2 217.84,293.2 217.90,296.0 217.96,295.1 218.02,293.2 218.08,301.3 218.14,292.3 218.20,295.1 218.26,284.5 218.32,282.4 218.38,277.4 218.44,276.3 218.50,261.7 218.56,253.0 218.62,243.2 218.68,241.3 218.74,243.2 218.81,240.2 218.87,242.3 218.93,243.2 218.99,240.2 219.05,256.4 219.11,273.0 219.17,266.9 219.23,289.8 219.29,300.2 219.35,285.9 219.41,300.2 219.47,288.2 219.53,292.3 219.59,290.6 219.65,294.1 219.71,286.7 219.77,292.3 219.83,298.0 219.89,289.0 219.95,293.2 220.01,294.1 220.07,298.0 220.13,290.6 220.19,295.1 220.25,301.3 220.31,296.0 220.37,302.4 220.43,299.1 220.49,288.2 220.55,289.0 220.61,290.6 220.67,295.1 220.73,288.2 220.79,286.7 220.85,299.1 220.91,297.0 220.97,293.2 221.03,285.9 221.09,291.5 221.15,303.6 221.21,295.1 221.27,288.2 221.33,289.0 221.39,289.8 221.45,292.3 221.51,285.2 221.57,300.2 221.63,285.9 221.69,289.8 221.75,298.0 221.81,290.6 221.87,302.4 221.93,289.0 221.99,286.7 222.05,289.0 222.11,284.5 222.17,283.8 222.23,280.5 222.29,286.7 222.35,300.2 222.41,300.2 222.47,290.6 222.54,284.5 222.60,288.2 222.66,290.6 222.72,302.4 222.78,281.7 222.84,290.6 222.90,297.0 222.96,298.0 223.02,293.2 223.08,286.7 223.14,304.8 223.20,302.4 223.26,289.8 223.32,298.0 223.38,283.1 223.44,289.8 223.50,290.6 223.56,296.0 223.62,292.3 223.68,292.3 223.74,289.8 223.80,297.0 223.86,297.0 223.92,293.2 223.98,286.7 224.04,295.1 224.10,289.8 224.16,282.4 224.22,290.6 224.28,300.2 224.34,286.7 224.40,293.2 224.46,293.2 224.52,287.4 224.58,297.0 224.64,291.5 224.70,300.2 224.76,294.1 224.82,303.6 224.88,290.6 224.94,286.7 225.00,300.2 225.06,288.2 225.12,292.3 225.18,296.0 225.24,287.4 225.30,288.2 225.36,294.1 225.42,292.3 225.48,288.2 225.54,283.8 225.60,294.1 225.66,289.8 225.72,289.8 225.78,301.3 225.84,289.0 225.90,295.1 225.96,286.7 226.02,286.7 226.08,288.2 226.14,295.1 226.20,298.0 226.26,291.5 226.33,293.2 226.39,294.1 226.45,297.0 226.51,294.1 226.57,291.5 226.63,289.8 226.69,298.0 226.75,285.9 226.81,293.2 226.87,295.1 226.93,290.6 226.99,289.8 227.05,294.1 227.11,292.3 227.17,299.1 227.23,294.1 227.29,302.4 227.35,294.1 227.41,297.0 227.47,286.7 227.53,297.0 227.59,299.1 227.65,290.6 227.71,285.2 227.77,283.8 227.83,285.9 227.89,288.2 227.95,289.0 228.01,293.2 228.07,290.6 228.13,298.0 228.19,294.1 228.25,285.9 228.31,291.5 228.37,287.4 228.43,302.4 228.49,299.1 228.55,289.0 228.61,291.5 228.67,287.4 228.73,285.9 228.79,289.8 228.85,289.8 228.91,281.7 228.97,293.2 229.03,294.1 229.09,289.8 229.15,294.1 229.21,285.2 229.27,289.0 229.33,289.8 229.39,286.7 229.45,294.1 229.51,297.0 229.57,292.3 229.63,293.2 229.69,294.1 229.75,292.3 229.81,300.2 229.87,298.0 229.93,297.0 229.99,296.0 230.06,283.1 230.12,295.1 230.18,298.0 230.24,295.1 230.30,299.1 230.36,306.1 230.42,286.7 230.48,287.4 230.54,302.4 230.60,288.2 230.66,292.3 230.72,289.0 230.78,285.9 230.84,287.4 230.90,295.1 230.96,299.1 231.02,289.0 231.08,288.2 231.14,292.3 231.20,288.2 231.26,289.8 231.32,291.5 231.38,291.5 231.44,290.6 231.50,301.3 231.56,288.2 231.62,293.2 231.68,294.1 231.74,289.0 231.80,289.0 231.86,299.1 231.92,291.5 231.98,297.0 232.04,297.0 232.10,283.1 232.16,301.3 232.22,294.1 232.28,308.8 232.34,287.4 232.40,289.8 232.46,286.7 232.52,293.2 232.58,297.0 232.64,291.5 232.70,293.2 232.76,299.1 232.82,294.1 232.88,304.8 232.94,287.4 233.00,281.7 233.06,285.9 233.12,300.2 233.18,286.7 233.24,290.6 233.30,287.4 233.36,283.1 233.42,306.1 233.48,296.0 233.54,301.3 233.60,296.0 233.66,291.5 233.72,283.8 233.78,298.0 233.85,283.8 233.91,295.1 233.97,287.4 234.03,297.0 234.09,291.5 234.15,286.7 234.21,293.2 234.27,288.2 234.33,296.0 234.39,295.1 234.45,298.0 234.51,286.7 234.57,289.8 234.63,295.1 234.69,307.4 234.75,291.5 234.81,298.0 234.87,292.3 234.93,279.2 234.99,293.2 235.05,299.1 235.11,287.4 235.17,289.0 235.23,299.1 235.29,290.6 235.35,296.0 235.41,293.2 235.47,297.0 235.53,294.1 235.59,290.6 235.65,289.8 235.71,301.3 235.77,287.4 235.83,298.0 235.89,289.8 235.95,291.5 236.01,297.0 236.07,293.2 236.13,293.2 236.19,288.2 236.25,306.1 236.31,292.3 236.37,297.0 236.43,303.6 236.49,281.7 236.55,299.1 236.61,300.2 236.67,300.2 236.73,296.0 236.79,299.1 236.85,298.0 236.91,289.8 236.97,294.1 237.03,297.0 237.09,281.1 237.15,289.8 237.21,294.1 237.27,287.4 237.33,301.3 237.39,298.0 237.45,284.5 237.51,291.5 237.58,287.4 237.64,294.1 237.70,302.4 237.76,295.1 237.82,298.0 237.88,300.2 237.94,292.3 238.00,293.2 238.06,299.1 238.12,292.3 238.18,306.1 238.24,302.4 238.30,288.2 238.36,295.1 238.42,299.1 238.48,296.0 238.54,285.9 238.60,290.6 238.66,302.4 238.72,294.1 238.78,299.1 238.84,294.1 238.90,289.0 238.96,293.2 239.02,293.2 239.08,300.2 239.14,297.0 239.20,296.0 239.26,290.6 239.32,289.0 239.38,295.1 239.44,293.2 239.50,291.5 239.56,296.0 239.62,295.1 239.68,295.1 239.74,299.1 239.80,296.0 239.86,306.1 239.92,295.1 239.98,298.0 240.04,284.5 240.10,298.0 240.16,300.2 240.22,285.2 240.28,297.0 240.34,289.8 240.40,297.0 240.46,289.0 240.52,289.0 240.58,295.1 240.64,301.3 240.70,293.2 240.76,294.1 240.82,291.5 240.88,291.5 240.94,294.1 241.00,291.5 241.06,287.4 241.12,294.1 241.18,308.8 241.24,293.2 241.30,292.3 241.37,291.5 241.43,299.1 241.49,298.0 241.55,289.0 241.61,296.0 241.67,285.9 241.73,292.3 241.79,291.5 241.85,290.6 241.91,282.4 241.97,298.0 242.03,292.3 242.09,293.2 242.15,286.7 242.21,289.0 242.27,306.1 242.33,292.3 242.39,285.9 242.45,296.0 242.51,313.2 242.57,288.2 242.63,303.6 242.69,292.3 242.75,298.0 242.81,292.3 242.87,281.1 242.93,304.8 242.99,294.1 243.05,292.3 243.11,295.1 243.17,303.6 243.23,296.0 243.29,285.2 243.35,303.6 243.41,292.3 243.47,296.0 243.53,283.1 243.59,293.2 243.65,293.2 243.71,296.0 243.77,300.2 243.83,301.3 243.89,294.1 243.95,289.8 244.01,297.0 244.07,304.8 244.13,283.8 244.19,297.0 244.25,291.5 244.31,297.0 244.37,292.3 244.43,308.8 244.49,298.0 244.55,283.1 244.61,292.3 244.67,293.2 244.73,299.1 244.79,301.3 244.85,288.2 244.91,285.9 244.97,289.8 245.03,299.1 245.10,293.2 245.16,292.3 245.22,295.1 245.28,289.0 245.34,295.1 245.40,281.1 245.46,296.0 245.52,285.2 245.58,282.4 245.64,289.8 245.70,296.0 245.76,295.1 245.82,296.0 245.88,283.8 245.94,297.0 246.00,290.6 246.06,300.2 246.12,294.1 246.18,292.3 246.24,282.4 246.30,299.1 246.36,289.0 246.42,292.3 246.48,298.0 246.54,293.2 246.60,285.2 246.66,295.1 246.72,299.1 246.78,285.2 246.84,295.1 246.90,296.0 246.96,289.0 247.02,295.1 247.08,292.3 247.14,289.0 247.20,291.5 247.26,289.0 247.32,292.3 247.38,289.8 247.44,278.0 247.50,271.0 247.56,271.5 247.62,260.1 247.68,260.1 247.74,257.1 247.80,257.1 247.86,259.1 247.92,259.1 247.98,257.1 248.04,268.2 248.10,281.1 248.16,285.9 248.22,289.0 248.28,288.2 248.34,289.0 248.40,294.1 248.46,289.0 248.52,297.0 248.58,297.0 248.64,296.0 248.70,285.2 248.76,293.2 248.82,287.4 248.89,293.2 248.95,302.4 249.01,288.2 249.07,297.0 249.13,295.1 249.19,293.2 249.25,296.0 249.31,296.0 249.37,300.2 249.43,297.0 249.49,279.8 249.55,293.2 249.61,290.6 249.67,288.2 249.73,302.4 249.79,295.1 249.85,297.0 249.91,295.1 249.97,294.1 250.03,286.7 250.09,283.1 250.15,289.0 250.21,293.2 250.27,291.5 250.33,294.1 250.39,304.8 250.45,290.6 250.51,298.0 250.57,298.0 250.63,296.0 250.69,284.5 250.75,296.0 250.81,293.2 250.87,287.4 250.93,290.6 250.99,292.3 251.05,296.0 251.11,299.1 251.17,290.6 251.23,289.8 251.29,308.8 251.35,296.0 251.41,291.5 251.47,289.0 251.53,297.0 251.59,289.0 251.65,298.0 251.71,302.4 251.77,291.5 251.83,293.2 251.89,290.6 251.95,291.5 252.01,289.0 252.07,297.0 252.13,297.0 252.19,293.2 252.25,289.0 252.31,296.0 252.37,291.5 252.43,290.6 252.49,285.9 252.55,292.3 252.62,293.2 252.68,289.8 252.74,279.8 252.80,293.2 252.86,285.2 252.92,289.0 252.98,285.2 253.04,291.5 253.10,299.1 253.16,287.4 253.22,289.0 253.28,289.0 253.34,293.2 253.40,295.1 253.46,287.4 253.52,291.5 253.58,289.8 253.64,294.1 253.70,300.2 253.76,290.6 253.82,295.1 253.88,289.8 253.94,298.0 254.00,291.5 254.06,295.1 254.12,291.5 254.18,291.5 254.24,298.0 254.30,292.3 254.36,294.1 254.42,301.3 254.48,289.0 254.54,287.4 254.60,291.5 254.66,301.3 254.72,300.2 254.78,289.8 254.84,298.0 254.90,293.2 254.96,284.5 255.02,289.0 255.08,290.6 255.14,298.0 255.20,293.2 255.26,286.7 255.32,295.1 255.38,297.0 255.44,286.7 255.50,288.2 255.56,291.5 255.62,295.1 255.68,284.5 255.74,294.1 255.80,290.6 255.86,294.1 255.92,287.4 255.98,290.6 256.04,298.0 256.10,294.1 256.16,289.8 256.22,289.0 256.28,294.1 256.34,301.3 256.41,293.2 256.47,290.6 256.53,295.1 256.59,308.8 256.65,302.4 256.71,297.0 256.77,285.9 256.83,302.4 256.89,290.6 256.95,308.8 257.01,296.0 257.07,296.0 257.13,288.2 257.19,298.0 257.25,301.3 257.31,292.3 257.37,289.8 257.43,299.1 257.49,297.0 257.55,290.6 257.61,294.1 257.67,290.6 257.73,295.1 257.79,293.2 257.85,296.0 257.91,298.0 257.97,300.2 258.03,298.0 258.09,289.0 258.15,286.7 258.21,295.1 258.27,283.1 258.33,280.5 258.39,301.3 258.45,303.6 258.51,287.4 258.57,287.4 258.63,299.1 258.69,292.3 258.75,299.1 258.81,298.0 258.87,293.2 258.93,292.3 258.99,298.0 259.05,281.7 259.11,302.4 259.17,299.1 259.23,289.8 259.29,288.2 259.35,298.0 259.41,285.2 259.47,294.1 259.53,285.2 259.59,291.5 259.65,299.1 259.71,289.0 259.77,306.1 259.83,292.3 259.89,295.1 259.95,301.3 260.01,302.4 260.07,303.6 260.14,294.1 260.20,314.8 260.26,295.1 260.32,293.2 260.38,295.1 260.44,300.2 260.50,295.1 260.56,293.2 260.62,300.2 260.68,295.1 260.74,300.2 260.80,292.3 260.86,293.2 260.92,283.1 260.98,289.0 261.04,296.0 261.10,285.9 261.16,286.7 261.22,288.2 261.28,287.4 261.34,299.1 261.40,302.4 261.46,293.2 261.52,291.5 261.58,292.3 261.64,291.5 261.70,306.1 261.76,289.0 261.82,291.5 261.88,291.5 261.94,297.0 262.00,283.1 262.06,293.2 262.12,299.1 262.18,294.1 262.24,294.1 262.30,290.6 262.36,299.1 262.42,303.6 262.48,307.4 262.54,290.6 262.60,288.2 262.66,296.0 262.72,295.1 262.78,298.0 262.84,302.4 262.90,291.5 262.96,298.0 263.02,298.0 263.08,296.0 263.14,294.1 263.20,289.8 263.26,286.7 263.32,294.1 263.38,291.5 263.44,301.3 263.50,288.2 263.56,286.7 263.62,299.1 263.68,297.0 263.74,285.9 263.80,300.2 263.86,287.4 263.93,298.0 263.99,290.6 264.05,290.6 264.11,293.2 264.17,292.3 264.23,289.0 264.29,289.8 264.35,287.4 264.41,298.0 264.47,289.8 264.53,292.3 264.59,299.1 264.65,302.4 264.71,293.2 264.77,310.2 264.83,299.1 264.89,288.2 264.95,292.3 265.01,290.6 265.07,290.6 265.13,298.0 265.19,285.9 265.25,292.3 265.31,290.6 265.37,289.8 265.43,296.0 265.49,292.3 265.55,298.0 265.61,285.9 265.67,294.1 265.73,286.7 265.79,287.4 265.85,299.1 265.91,290.6 265.97,289.8 266.03,297.0 266.09,297.0 266.15,296.0 266.21,299.1 266.27,293.2 266.33,292.3 266.39,299.1 266.45,292.3 266.51,291.5 266.57,294.1 266.63,296.0 266.69,289.0 266.75,289.8 266.81,288.2 266.87,299.1 266.93,308.8 266.99,291.5 267.05,285.2 267.11,289.8 267.17,299.1 267.23,300.2 267.29,283.8 267.35,287.4 267.41,289.0 267.47,303.6 267.53,299.1 267.59,300.2 267.66,297.0 267.72,301.3 267.78,295.1 267.84,292.3 267.90,300.2 267.96,285.9 268.02,298.0 268.08,298.0 268.14,292.3 268.20,294.1 268.26,289.0 268.32,293.2 268.38,303.6 268.44,297.0 268.50,285.2 268.56,302.4 268.62,300.2 268.68,301.3 268.74,295.1 268.80,299.1 268.86,288.2 268.92,291.5 268.98,299.1 269.04,296.0 269.10,299.1 269.16,297.0 269.22,306.1 269.28,290.6 269.34,287.4 269.40,296.0 269.46,304.8 269.52,296.0 269.58,292.3 269.64,295.1 269.70,289.0 269.76,291.5 269.82,298.0 269.88,301.3 269.94,295.1 270.00,285.9 270.06,298.0 270.12,289.8 270.18,291.5 270.24,299.1 270.30,287.4 270.36,296.0 270.42,299.1 270.48,298.0 270.54,297.0 270.60,292.3 270.66,302.4 270.72,301.3 270.78,293.2 270.84,295.1 270.90,288.2 270.96,289.8 271.02,286.7 271.08,298.0 271.14,300.2 271.20,307.4 271.26,290.6 271.32,294.1 271.38,304.8 271.45,301.3 271.51,294.1 271.57,290.6 271.63,291.5 271.69,289.0 271.75,292.3 271.81,300.2 271.87,295.1 271.93,296.0 271.99,303.6 272.05,293.2 272.11,295.1 272.17,290.6 272.23,294.1 272.29,299.1 272.35,292.3 272.41,294.1 272.47,298.0 272.53,295.1 272.59,289.0 272.65,288.2 272.71,289.8 272.77,291.5 272.83,289.8 272.89,296.0 272.95,297.0 273.01,299.1 273.07,288.2 273.13,301.3 273.19,287.4 273.25,284.5 273.31,301.3 273.37,287.4 273.43,288.2 273.49,294.1 273.55,303.6 273.61,291.5 273.67,304.8 273.73,275.7 273.79,296.0 273.85,293.2 273.91,293.2 273.97,302.4 274.03,279.8 274.09,300.2 274.15,299.1 274.21,287.4 274.27,285.2 274.33,314.8 274.39,297.0 274.45,302.4 274.51,296.0 274.57,284.5 274.63,304.8 274.69,280.5 274.75,297.0 274.81,299.1 274.87,289.0 274.93,285.9 274.99,295.1 275.05,303.6 275.11,302.4 275.18,285.9 275.24,298.0 275.30,286.7 275.36,292.3 275.42,294.1 275.48,300.2 275.54,307.4 275.60,297.0 275.66,299.1 275.72,304.8 275.78,295.1 275.84,285.2 275.90,299.1 275.96,295.1 276.02,288.2 276.08,300.2 276.14,297.0 276.20,299.1 276.26,293.2 276.32,308.8 276.38,281.1 276.44,293.2 276.50,290.6 276.56,303.6 276.62,304.8 276.68,291.5 276.74,299.1 276.80,296.0 276.86,286.7 276.92,289.8 276.98,298.0 277.04,287.4 277.10,289.8 277.16,303.6 277.22,296.0 277.28,288.2 277.34,300.2 277.40,314.8 277.46,289.8 277.52,286.7 277.58,285.9 277.64,291.5 277.70,294.1 277.76,292.3 277.82,293.2 277.88,297.0 277.94,300.2 278.00,289.0 278.06,296.0 278.12,290.6 278.18,281.1 278.24,297.0 278.30,289.8 278.36,291.5 278.42,298.0 278.48,295.1 278.54,288.2 278.60,293.2 278.66,298.0 278.72,302.4 278.78,289.8 278.84,296.0 278.90,289.8 278.97,296.0 279.03,295.1 279.09,289.0 279.15,292.3 279.21,296.0 279.27,298.0 279.33,303.6 279.39,300.2 279.45,297.0 279.51,285.9 279.57,307.4 279.63,293.2 279.69,289.8 279.75,296.0 279.81,296.0 279.87,294.1 279.93,297.0 279.99,299.1 280.05,292.3 280.11,302.4 280.17,290.6 280.23,295.1 280.29,294.1 280.35,298.0 280.41,284.5 280.47,294.1 280.53,287.4 280.59,282.4 280.65,294.1 280.71,302.4 280.77,298.0 280.83,293.2 280.89,301.3 280.95,304.8 281.01,298.0 281.07,299.1 281.13,285.9 281.19,285.9 281.25,292.3 281.31,296.0 281.37,300.2 281.43,294.1 281.49,294.1 281.55,290.6 281.61,289.8 281.67,300.2 281.73,284.5 281.79,291.5 281.85,289.8 281.91,298.0 281.97,291.5 282.03,301.3 282.09,284.5 282.15,295.1 282.21,292.3 282.27,287.4 282.33,294.1 282.39,299.1 282.45,292.3 282.51,294.1 282.57,296.0 282.63,301.3 282.70,291.5 282.76,298.0 282.82,297.0 282.88,293.2 282.94,298.0 283.00,289.0 283.06,288.2 283.12,307.4 283.18,294.1 283.24,291.5 283.30,289.0 283.36,296.0 283.42,295.1 283.48,291.5 283.54,299.1 283.60,299.1 283.66,289.8 283.72,283.1 283.78,301.3 283.84,289.0 283.90,303.6 283.96,298.0 284.02,294.1 284.08,291.5 284.14,284.5 284.20,299.1 284.26,299.1 284.32,303.6 284.38,292.3 284.44,288.2 284.50,289.0 284.56,282.4 284.62,299.1 284.68,303.6 284.74,294.1 284.80,293.2 284.86,294.1 284.92,300.2 284.98,301.3 285.04,296.0 285.10,298.0 285.16,298.0 285.22,289.8 285.28,291.5 285.34,298.0 285.40,295.1 285.46,299.1 285.52,289.8 285.58,300.2 285.64,295.1 285.70,291.5 285.76,295.1 285.82,288.2 285.88,291.5 285.94,293.2 286.00,293.2 286.06,300.2 286.12,295.1 286.18,289.0 286.24,292.3 286.30,290.6 286.36,291.5 286.42,291.5 286.49,303.6 286.55,295.1 286.61,293.2 286.67,288.2 286.73,301.3 286.79,288.2 286.85,282.4 286.91,284.5 286.97,295.1 287.03,298.0 287.09,291.5 287.15,287.4 287.21,293.2 287.27,291.5 287.33,288.2 287.39,294.1 287.45,303.6 287.51,286.7 287.57,290.6 287.63,285.2 287.69,289.0 287.75,289.0 287.81,294.1 287.87,289.8 287.93,298.0 287.99,302.4 288.05,300.2 288.11,303.6 288.17,289.8 288.23,304.8 288.29,304.8 288.35,295.1 288.41,285.9 288.47,297.0 288.53,291.5 288.59,291.5 288.65,292.3 288.71,301.3 288.77,290.6 288.83,308.8 288.89,290.6 288.95,303.6 289.01,293.2 289.07,287.4 289.13,294.1 289.19,300.2 289.25,291.5 289.31,286.7 289.37,306.1 289.43,285.9 289.49,295.1 289.55,289.0 289.61,298.0 289.67,288.2 289.73,295.1 289.79,298.0 289.85,293.2 289.91,291.5 289.97,288.2 290.03,296.0 290.09,290.6 290.15,281.1 290.22,304.8 290.28,295.1 290.34,299.1 290.40,293.2 290.46,310.2 290.52,310.2 290.58,289.8 290.64,279.2 290.70,294.1 290.76,299.1 290.82,283.1 290.88,288.2 290.94,299.1 291.00,308.8 291.06,308.8 291.12,290.6 291.18,285.9 291.24,296.0 291.30,289.8 291.36,295.1 291.42,298.0 291.48,294.1 291.54,295.1 291.60,290.6 291.66,289.0 291.72,298.0 291.78,306.1 291.84,296.0 291.90,304.8 291.96,294.1 292.02,292.3 292.08,289.0 292.14,289.8 292.20,298.0 292.26,297.0 292.32,294.1 292.38,294.1 292.44,299.1 292.50,301.3 292.56,289.8 292.62,291.5 292.68,287.4 292.74,301.3 292.80,298.0 292.86,310.2 292.92,292.3 292.98,294.1 293.04,288.2 293.10,301.3 293.16,292.3 293.22,294.1 293.28,294.1 293.34,294.1 293.40,295.1 293.46,300.2 293.52,289.0 293.58,295.1 293.64,297.0 293.70,290.6 293.76,289.8 293.82,285.2 293.88,296.0 293.94,299.1 294.01,298.0 294.07,298.0 294.13,295.1 294.19,295.1 294.25,294.1 294.31,294.1 294.37,304.8 294.43,295.1 294.49,294.1 294.55,288.2 294.61,299.1 294.67,301.3 294.73,289.0 294.79,308.8 294.85,293.2 294.91,300.2 294.97,291.5 295.03,295.1 295.09,284.5 295.15,289.8 295.21,299.1 295.27,285.9 295.33,300.2 295.39,281.1 295.45,292.3 295.51,292.3 295.57,304.8 295.63,295.1 295.69,295.1 295.75,295.1 295.81,298.0 295.87,288.2 295.93,298.0 295.99,289.8 296.05,296.0 296.11,289.0 296.17,278.6 296.23,292.3 296.29,285.2 296.35,293.2 296.41,283.8 296.47,293.2 296.53,296.0 296.59,294.1 296.65,289.8 296.71,297.0 296.77,294.1 296.83,292.3 296.89,300.2 296.95,289.8 297.01,297.0 297.07,293.2 297.13,304.8 297.19,287.4 297.25,303.6 297.31,296.0 297.37,296.0 297.43,289.8 297.49,294.1 297.55,294.1 297.61,293.2 297.67,289.8 297.74,295.1 297.80,295.1 297.86,303.6 297.92,288.2 297.98,299.1 298.04,287.4 298.10,299.1 298.16,300.2 298.22,289.8 298.28,302.4 298.34,298.0 298.40,298.0 298.46,307.4 298.52,283.8 298.58,306.1 298.64,294.1 298.70,285.9 298.76,296.0 298.82,288.2 298.88,289.8 298.94,299.1 299.00,289.0 299.06,301.3 299.12,290.6 299.18,295.1 299.24,295.1 299.30,303.6 299.36,304.8 299.42,295.1 299.48,301.3 299.54,296.0 299.60,298.0 299.66,294.1 299.72,295.1 299.78,308.8 299.84,298.0 299.90,289.0 299.96,302.4 300.02,296.0 300.08,296.0 300.14,286.7 300.20,297.0 300.26,290.6 300.32,296.0 300.38,292.3 300.44,300.2 300.50,291.5 300.56,293.2 300.62,295.1 300.68,301.3 300.74,295.1 300.80,291.5 300.86,300.2 300.92,299.1 300.98,286.7 301.04,289.8 301.10,292.3 301.16,296.0 301.22,289.8 301.28,294.1 301.34,281.1 301.40,289.0 301.46,303.6 301.53,295.1 301.59,279.2 301.65,297.0 301.71,295.1 301.77,291.5 301.83,289.8 301.89,301.3 301.95,290.6 302.01,293.2 302.07,291.5 302.13,304.8 302.19,287.4 302.25,287.4 302.31,300.2 302.37,295.1 302.43,298.0 302.49,294.1 302.55,287.4 302.61,294.1 302.67,298.0 302.73,296.0 302.79,286.7 302.85,289.8 302.91,306.1 302.97,303.6 303.03,301.3 303.09,292.3 303.15,299.1 303.21,288.2 303.27,287.4 303.33,291.5 303.39,285.2 303.45,300.2 303.51,291.5 303.57,291.5 303.63,289.0 303.69,286.7 303.75,301.3 303.81,294.1 303.87,297.0 303.93,291.5 303.99,298.0 304.05,303.6 304.11,294.1 304.17,289.8 304.23,295.1 304.29,296.0 304.35,289.0 304.41,299.1 304.47,295.1 304.53,296.0 304.59,288.2 304.65,290.6 304.71,292.3 304.77,303.6 304.83,292.3 304.89,302.4 304.95,290.6 305.01,293.2 305.07,297.0 305.13,293.2 305.19,302.4 305.26,299.1 305.32,298.0 305.38,291.5 305.44,287.4 305.50,288.2 305.56,294.1 305.62,288.2 305.68,289.0 305.74,298.0 305.80,291.5 305.86,289.8 305.92,307.4 305.98,286.7 306.04,300.2 306.10,285.2 306.16,298.0 306.22,282.4 306.28,297.0 306.34,295.1 306.40,285.9 306.46,289.0 306.52,294.1 306.58,291.5 306.64,290.6 306.70,294.1 306.76,280.5 306.82,293.2 306.88,298.0 306.94,289.0 307.00,288.2 307.06,290.6 307.12,289.8 307.18,292.3 307.24,291.5 307.30,298.0 307.36,297.0 307.42,301.3 307.48,288.2 307.54,291.5 307.60,301.3 307.66,287.4 307.72,292.3 307.78,298.0 307.84,297.0 307.90,304.8 307.96,296.0 308.02,292.3 308.08,293.2 308.14,299.1 308.20,301.3 308.26,294.1 308.32,297.0 308.38,295.1 308.44,289.0 308.50,294.1 308.56,289.0 308.62,282.4 308.68,279.2 308.74,296.0 308.80,290.6 308.86,291.5 308.92,290.6 308.98,297.0 309.05,286.7 309.11,283.8 309.17,296.0 309.23,279.2 309.29,285.9 309.35,284.5 309.41,289.8 309.47,286.7 309.53,285.2 309.59,301.3 309.65,291.5 309.71,294.1 309.77,288.2 309.83,287.4 309.89,282.4 309.95,284.5 310.01,295.1 310.07,290.6 310.13,296.0 310.19,285.9 310.25,299.1 310.31,280.5 310.37,286.7 310.43,276.3 310.49,262.4 310.55,250.2 310.61,242.8 310.67,229.7 310.73,221.9 310.79,203.3 310.85,203.3 310.91,203.3 310.97,200.3 311.03,200.3 311.09,203.3 311.15,200.3 311.21,216.1 311.27,221.0 311.33,232.2 311.39,241.0 311.45,250.7 311.51,264.8 311.57,267.3 311.63,288.2 311.69,289.0 311.75,290.6 311.81,285.2 311.87,283.1 311.93,287.4 311.99,291.5 312.05,287.4 312.11,291.5 312.17,283.1 312.23,288.2 312.29,292.3 312.35,291.5 312.41,294.1 312.47,285.9 312.53,290.6 312.59,297.0 312.65,301.3 312.71,293.2 312.78,296.0 312.84,284.5 312.90,297.0 312.96,287.4 313.02,285.2 313.08,294.1 313.14,295.1 313.20,290.6 313.26,292.3 313.32,287.4 313.38,281.1 313.44,289.8 313.50,285.9 313.56,292.3 313.62,291.5 313.68,285.2 313.74,292.3 313.80,289.8 313.86,301.3 313.92,287.4 313.98,285.9 314.04,294.1 314.10,295.1 314.16,293.2 314.22,288.2 314.28,299.1 314.34,287.4 314.40,289.0 314.46,290.6 314.52,298.0 314.58,293.2 314.64,289.0 314.70,293.2 314.76,280.5 314.82,297.0 314.88,289.8 314.94,285.2 315.00,289.8 315.06,283.8 315.12,291.5 315.18,287.4 315.24,284.5 315.30,289.0 315.36,288.2 315.42,281.7 315.48,291.5 315.54,294.1 315.60,289.0 315.66,287.4 315.72,293.2 315.78,281.1 315.84,289.0 315.90,295.1 315.96,291.5 316.02,295.1 316.08,287.4 316.14,283.1 316.20,284.5 316.26,292.3 316.32,294.1 316.38,292.3 316.44,297.0 316.50,291.5 316.57,285.2 316.63,289.8 316.69,285.9 316.75,291.5 316.81,297.0 316.87,291.5 316.93,283.8 316.99,286.7 317.05,279.8 317.11,293.2 317.17,288.2 317.23,292.3 317.29,284.5 317.35,282.4 317.41,281.7 317.47,289.0 317.53,284.5 317.59,288.2 317.65,280.5 317.71,287.4 317.77,295.1 317.83,289.8 317.89,292.3 317.95,284.5 318.01,295.1 318.07,290.6 318.13,286.7 318.19,291.5 318.25,285.9 318.31,294.1 318.37,291.5 318.43,289.0 318.49,285.2 318.55,297.0 318.61,289.8 318.67,296.0 318.73,277.4 318.79,286.7 318.85,276.8 318.91,293.2 318.97,277.4 319.03,285.2 319.09,293.2 319.15,282.4 319.21,291.5 319.27,289.0 319.33,283.8 319.39,288.2 319.45,279.2 319.51,283.8 319.57,285.9 319.63,280.5 319.69,291.5 319.75,294.1 319.81,293.2 319.87,290.6 319.93,279.8 319.99,280.5 320.05,280.5 320.11,291.5 320.17,282.4 320.23,279.2 320.30,289.0 320.36,284.5 320.42,295.1 320.48,291.5 320.54,292.3 320.60,292.3 320.66,289.0 320.72,280.5 320.78,292.3 320.84,285.2 320.90,277.4 320.96,290.6 321.02,283.1 321.08,279.8 321.14,289.0 321.20,281.7 321.26,289.8 321.32,289.0 321.38,286.7 321.44,285.9 321.50,285.9 321.56,285.2 321.62,278.0 321.68,288.2 321.74,278.0 321.80,288.2 321.86,298.0 321.92,282.4 321.98,286.7 322.04,294.1 322.10,287.4 322.16,283.8 322.22,296.0 322.28,283.8 322.34,289.8 322.40,286.7 322.46,283.8 322.52,285.9 322.58,284.5 322.64,286.7 322.70,284.5 322.76,282.4 322.82,288.2 322.88,297.0 322.94,293.2 323.00,288.2 323.06,293.2 323.12,284.5 323.18,286.7 323.24,297.0 323.30,278.0 323.36,281.1 323.42,288.2 323.48,285.2 323.54,268.2 323.60,281.1 323.66,285.9 323.72,293.2 323.78,283.1 323.84,289.0 323.90,276.8 323.96,281.1 324.02,279.2 324.09,283.1 324.15,281.1 324.21,275.2 324.27,286.7 324.33,289.8 324.39,282.4 324.45,278.6 324.51,289.0 324.57,284.5 324.63,298.0 324.69,278.6 324.75,284.5 324.81,289.0 324.87,277.4 324.93,289.0 324.99,280.5 325.05,282.4 325.11,289.0 325.17,287.4 325.23,289.8 325.29,281.1 325.35,275.7 325.41,288.2 325.47,274.1 325.53,285.2 325.59,284.5 325.65,284.5 325.71,279.2 325.77,283.1 325.83,285.2 325.89,286.7 325.95,296.0 326.01,278.6 326.07,278.6 326.13,289.8 326.19,285.9 326.25,283.1 326.31,279.8 326.37,288.2 326.43,286.7 326.49,285.9 326.55,285.2 326.61,282.4 326.67,282.4 326.73,283.8 326.79,286.7 326.85,288.2 326.91,283.1 326.97,294.1 327.03,292.3 327.09,284.5 327.15,282.4 327.21,278.0 327.27,276.8 327.33,287.4 327.39,284.5 327.45,281.7 327.51,284.5 327.57,279.8 327.63,291.5 327.69,286.7 327.75,283.1 327.82,280.5 327.88,282.4 327.94,300.2 328.00,280.5 328.06,293.2 328.12,287.4 328.18,281.7 328.24,275.2 328.30,276.3 328.36,289.8 328.42,283.1 328.48,283.1 328.54,285.2 328.60,281.1 328.66,280.5 328.72,287.4 328.78,283.8 328.84,286.7 328.90,289.8 328.96,275.2 329.02,289.0 329.08,281.7 329.14,289.0 329.20,292.3 329.26,278.6 329.32,278.0 329.38,279.8 329.44,291.5 329.50,285.9 329.56,285.9 329.62,279.8 329.68,285.9 329.74,281.7 329.80,292.3 329.86,285.9 329.92,289.0 329.98,276.3 330.04,281.1 330.10,279.8 330.16,291.5 330.22,289.8 330.28,293.2 330.34,279.2 330.40,284.5 330.46,288.2 330.52,288.2 330.58,292.3 330.64,279.2 330.70,290.6 330.76,280.5 330.82,283.8 330.88,278.6 330.94,281.1 331.00,280.5 331.06,280.5 331.12,281.1 331.18,288.2 331.24,283.8 331.30,286.7 331.36,286.7 331.42,283.1 331.48,278.0 331.54,278.0 331.61,283.8 331.67,283.1 331.73,289.0 331.79,285.2 331.85,284.5 331.91,286.7 331.97,298.0 332.03,292.3 332.09,290.6 332.15,284.5 332.21,289.0 332.27,288.2 332.33,289.0 332.39,289.8 332.45,292.3 332.51,283.8 332.57,278.6 332.63,287.4 332.69,289.8 332.75,284.5 332.81,299.1 332.87,292.3 332.93,289.0 332.99,286.7 333.05,284.5 333.11,283.8 333.17,285.9 333.23,291.5 333.29,278.6 333.35,286.7 333.41,283.1 333.47,288.2 333.53,296.0 333.59,289.0 333.65,293.2 333.71,295.1 333.77,292.3 333.83,280.5 333.89,289.8 333.95,281.7 334.01,282.4 334.07,287.4 334.13,306.1 334.19,289.0 334.25,285.2 334.31,281.7 334.37,303.6 334.43,293.2 334.49,296.0 334.55,289.0 334.61,289.0 334.67,291.5 334.73,294.1 334.79,307.4 334.85,289.0 334.91,295.1 334.97,283.1 335.03,295.1 335.09,296.0 335.15,300.2 335.21,287.4 335.27,288.2 335.34,300.2 335.40,296.0 335.46,298.0 335.52,293.2 335.58,291.5 335.64,292.3 335.70,298.0 335.76,303.6 335.82,286.7 335.88,297.0 335.94,308.8 336.00,303.6 336.06,303.6 336.12,292.3 336.18,286.7 336.24,302.4 336.30,291.5 336.36,300.2 336.42,307.4 336.48,302.4 336.54,289.8 336.60,299.1 336.66,301.3 336.72,283.8 336.78,304.8 336.84,290.6 336.90,311.7 336.96,310.2 337.02,297.0 337.08,297.0 337.14,294.1 337.20,291.5 337.26,287.4 337.32,300.2 337.38,314.8 337.44,286.7 337.50,301.3 337.56,300.2 337.62,297.0 337.68,299.1 337.74,292.3 337.80,290.6 337.86,289.8 337.92,301.3 337.98,296.0 338.04,303.6 338.10,314.8 338.16,303.6 338.22,298.0 338.28,300.2 338.34,295.1 338.40,297.0 338.46,298.0 338.52,302.4 338.58,310.2 338.64,290.6 338.70,306.1 338.76,288.2 338.82,306.1 338.88,313.2 338.94,313.2 339.00,298.0 339.06,313.2 339.13,296.0 339.19,301.3 339.25,307.4 339.31,293.2 339.37,297.0 339.43,302.4 339.49,301.3 339.55,307.4 339.61,311.7 339.67,304.8 339.73,285.2 339.79,307.4 339.85,307.4 339.91,289.8 339.97,304.8 340.03,311.7 340.09,302.4 340.15,307.4 340.21,298.0 340.27,306.1 340.33,297.0 340.39,314.8 340.45,307.4 340.51,294.1 340.57,308.8 340.63,302.4 340.69,303.6 340.75,293.2 340.81,303.6 340.87,295.1 340.93,294.1 340.99,296.0 341.05,306.1 341.11,298.0 341.17,285.9 341.23,297.0 341.29,303.6 341.35,300.2 341.41,301.3 341.47,316.5 341.53,300.2 341.59,296.0 341.65,293.2 341.71,300.2 341.77,302.4 341.83,308.8 341.89,294.1 341.95,295.1 342.01,293.2 342.07,294.1 342.13,301.3 342.19,296.0 342.25,297.0 342.31,292.3 342.37,290.6 342.43,302.4 342.49,301.3 342.55,308.8 342.61,297.0 342.67,294.1 342.73,293.2 342.79,299.1 342.86,308.8 342.92,300.2 342.98,306.1 343.04,302.4 343.10,298.0 343.16,302.4 343.22,310.2 343.28,303.6 343.34,289.0 343.40,308.8 343.46,302.4 343.52,303.6 343.58,290.6 343.64,296.0 343.70,311.7 343.76,294.1 343.82,298.0 343.88,295.1 343.94,292.3 344.00,291.5 344.06,313.2 344.12,297.0 344.18,303.6 344.24,285.9 344.30,307.4 344.36,295.1 344.42,301.3 344.48,299.1 344.54,302.4 344.60,295.1 344.66,288.2 344.72,291.5 344.78,293.2 344.84,303.6 344.90,311.7 344.96,295.1 345.02,301.3 345.08,294.1 345.14,308.8 345.20,336.7 345.26,292.3 345.32,308.8 345.38,292.3 345.44,298.0 345.50,318.2 345.56,306.1 345.62,313.2 345.68,296.0 345.74,297.0 345.80,295.1 345.86,299.1 345.92,288.2 345.98,306.1 346.04,294.1 346.10,301.3 346.16,311.7 346.22,295.1 346.28,303.6 346.34,297.0 346.40,299.1 346.46,301.3 346.52,311.7 346.58,293.2 346.65,298.0 346.71,295.1 346.77,298.0 346.83,299.1 346.89,299.1 346.95,313.2 347.01,289.8 347.07,301.3 347.13,299.1 347.19,326.3 347.25,299.1 347.31,293.2 347.37,307.4 347.43,308.8 347.49,303.6 347.55,295.1 347.61,289.0 347.67,286.7 347.73,289.8 347.79,302.4 347.85,313.2 347.91,313.2 347.97,295.1 348.03,302.4 348.09,290.6 348.15,294.1 348.21,310.2 348.27,302.4 348.33,304.8 348.39,295.1 348.45,296.0 348.51,297.0 348.57,299.1 348.63,307.4 348.69,298.0 348.75,302.4 348.81,302.4 348.87,299.1 348.93,296.0 348.99,302.4 349.05,320.1 349.11,297.0 349.17,308.8 349.23,296.0 349.29,310.2 349.35,306.1 349.41,297.0 349.47,293.2 349.53,303.6 349.59,308.8 349.65,307.4 349.71,303.6 349.77,298.0 349.83,310.2 349.89,296.0 349.95,304.8 350.01,300.2 350.07,294.1 350.13,306.1 350.19,304.8 350.25,290.6 350.31,306.1 350.38,300.2 350.44,313.2 350.50,303.6 350.56,302.4 350.62,311.7 350.68,296.0 350.74,303.6 350.80,306.1 350.86,313.2 350.92,308.8 350.98,302.4 351.04,291.5 351.10,311.7 351.16,289.8 351.22,300.2 351.28,300.2 351.34,298.0 351.40,303.6 351.46,301.3 351.52,299.1 351.58,295.1 351.64,297.0 351.70,314.8 351.76,297.0 351.82,291.5 351.88,299.1 351.94,302.4 352.00,311.7 352.06,300.2 352.12,300.2 352.18,303.6 352.24,302.4 352.30,297.0 352.36,290.6 352.42,307.4 352.48,303.6 352.54,316.5 352.60,300.2 352.66,298.0 352.72,299.1 352.78,301.3 352.84,322.0 352.90,308.8 352.96,300.2 353.02,302.4 353.08,300.2 353.14,290.6 353.20,301.3 353.26,303.6 353.32,298.0 353.38,294.1 353.44,299.1 353.50,298.0 353.56,290.6 353.62,303.6 353.68,306.1 353.74,300.2 353.80,308.8 353.86,299.1 353.92,288.2 353.98,293.2 354.04,300.2 354.10,292.3 354.17,307.4 354.23,300.2 354.29,296.0 354.35,294.1 354.41,301.3 354.47,311.7 354.53,297.0 354.59,295.1 354.65,294.1 354.71,299.1 354.77,304.8 354.83,296.0 354.89,298.0 354.95,302.4 355.01,296.0 355.07,291.5 355.13,297.0 355.19,307.4 355.25,288.2 355.31,285.9 355.37,283.8 355.43,281.1 355.49,292.3 355.55,281.1 355.61,281.1 355.67,281.1 355.73,281.1 355.79,284.1 355.85,283.8 355.91,281.1 355.97,292.3 356.03,291.5 356.09,294.1 356.15,299.1 356.21,297.0 356.27,298.0 356.33,303.6 356.39,297.0 356.45,301.3 356.51,306.1 356.57,299.1 356.63,303.6 356.69,294.1 356.75,302.4 356.81,301.3 356.87,298.0 356.93,304.8 356.99,301.3 357.05,307.4 357.11,307.4 357.17,308.8 357.23,299.1 357.29,296.0 357.35,307.4 357.41,297.0 357.47,288.2 357.53,294.1 357.59,296.0 357.65,291.5 357.71,295.1 357.77,303.6 357.83,299.1 357.90,301.3 357.96,292.3 358.02,301.3 358.08,303.6 358.14,300.2 358.20,298.0 358.26,303.6 358.32,302.4 358.38,300.2 358.44,290.6 358.50,296.0 358.56,294.1 358.62,294.1 358.68,292.3 358.74,295.1 358.80,308.8 358.86,300.2 358.92,298.0 358.98,294.1 359.04,301.3 359.10,285.9 359.16,299.1 359.22,303.6 359.28,306.1 359.34,300.2 359.40,303.6 359.46,299.1 359.52,302.4 359.58,300.2 359.64,297.0 359.70,302.4 359.76,297.0 359.82,307.4 359.88,289.0 359.94,292.3 360.00,289.0 360.06,297.0 360.12,299.1 360.18,304.8 360.24,308.8 360.30,302.4 360.36,303.6 360.42,304.8 360.48,306.1 360.54,302.4 360.60,301.3 360.66,310.2 360.72,289.8 360.78,296.0 360.84,304.8 360.90,299.1 360.96,307.4 361.02,311.7 361.08,304.8 361.14,302.4 361.20,304.8 361.26,306.1 361.32,300.2 361.38,292.3 361.44,291.5 361.50,296.0 361.56,290.6 361.62,303.6 361.69,292.3 361.75,307.4 361.81,303.6 361.87,303.6 361.93,296.0 361.99,308.8 362.05,295.1 362.11,294.1 362.17,294.1 362.23,300.2 362.29,289.8 362.35,308.8 362.41,300.2 362.47,311.7 362.53,295.1 362.59,295.1 362.65,302.4 362.71,306.1 362.77,289.8 362.83,302.4 362.89,307.4 362.95,304.8 363.01,307.4 363.07,311.7 363.13,296.0 363.19,297.0 363.25,299.1 363.31,298.0 363.37,302.4 363.43,311.7 363.49,304.8 363.55,294.1 363.61,295.1 363.67,296.0 363.73,301.3 363.79,286.7 363.85,297.0 363.91,292.3 363.97,288.2 364.03,288.2 364.09,289.8 364.15,311.7 364.21,295.1 364.27,292.3 364.33,292.3 364.39,291.5 364.45,292.3 364.51,306.1 364.57,299.1 364.63,294.1 364.69,294.1 364.75,299.1 364.81,299.1 364.87,301.3 364.93,314.8 364.99,306.1 365.05,301.3 365.11,308.8 365.17,299.1 365.23,291.5 365.29,300.2 365.35,313.2 365.42,303.6 365.48,300.2 365.54,310.2 365.60,298.0 365.66,296.0 365.72,293.2 365.78,310.2 365.84,299.1 365.90,294.1 365.96,291.5 366.02,297.0 366.08,301.3 366.14,295.1 366.20,297.0 366.26,297.0 366.32,299.1 366.38,310.2 366.44,292.3 366.50,301.3 366.56,299.1 366.62,331.1 366.68,304.8 366.74,298.0 366.80,292.3 366.86,311.7 366.92,299.1 366.98,299.1 367.04,293.2 367.10,301.3 367.16,300.2 367.22,303.6 367.28,296.0 367.34,295.1 367.40,298.0 367.46,299.1 367.52,300.2 367.58,297.0 367.64,303.6 367.70,293.2 367.76,304.8 367.82,302.4 367.88,308.8 367.94,288.2 368.00,295.1 368.06,294.1 368.12,307.4 368.18,311.7 368.24,291.5 368.30,303.6 368.36,298.0 368.42,294.1 368.48,288.2 368.54,298.0 368.60,299.1 368.66,294.1 368.72,300.2 368.78,299.1 368.84,300.2 368.90,295.1 368.96,300.2 369.02,298.0 369.08,302.4 369.14,301.3 369.21,292.3 369.27,301.3 369.33,308.8 369.39,295.1 369.45,301.3 369.51,296.0 369.57,298.0 369.63,303.6 369.69,302.4 369.75,294.1 369.81,304.8 369.87,295.1 369.93,294.1 369.99,294.1 370.05,289.0 370.11,293.2 370.17,302.4 370.23,303.6 370.29,295.1 370.35,303.6 370.41,299.1 370.47,294.1 370.53,298.0 370.59,299.1 370.65,297.0 370.71,298.0 370.77,302.4 370.83,294.1 370.89,308.8 370.95,302.4 371.01,299.1 371.07,289.8 371.13,294.1 371.19,295.1 371.25,292.3 371.31,297.0 371.37,304.8 371.43,290.6 371.49,306.1 371.55,300.2 371.61,299.1 371.67,298.0 371.73,290.6 371.79,290.6 371.85,301.3 371.91,296.0 371.97,297.0 372.03,306.1 372.09,310.2 372.15,297.0 372.21,294.1 372.27,301.3 372.33,300.2 372.39,302.4 372.45,294.1 372.51,302.4 372.57,296.0 372.63,294.1 372.69,294.1 372.75,304.8 372.81,294.1 372.87,310.2 372.94,286.7 373.00,299.1 373.06,300.2 373.12,299.1 373.18,308.8 373.24,303.6 373.30,296.0 373.36,295.1 373.42,297.0 373.48,290.6 373.54,297.0 373.60,310.2 373.66,311.7 373.72,311.7 373.78,293.2 373.84,297.0 373.90,308.8 373.96,297.0 374.02,300.2 374.08,298.0 374.14,291.5 374.20,307.4 374.26,301.3 374.32,301.3 374.38,299.1 374.44,296.0 374.50,303.6 374.56,297.0 374.62,295.1 374.68,295.1 374.74,307.4 374.80,297.0 374.86,288.2 374.92,297.0 374.98,281.1 375.04,289.8 375.10,290.6 375.16,296.0 375.22,289.8 375.28,296.0 375.34,287.4 375.40,296.0 375.46,293.2 375.52,289.8 375.58,287.4 375.64,301.3 375.70,295.1 375.76,302.4 375.82,306.1 375.88,297.0 375.94,302.4 376.00,289.8 376.06,294.1 376.12,299.1 376.18,293.2 376.24,306.1 376.30,301.3 376.36,301.3 376.42,296.0 376.48,304.8 376.54,292.3 376.60,294.1 376.66,290.6 376.73,289.8 376.79,299.1 376.85,301.3 376.91,286.7 376.97,302.4 377.03,292.3 377.09,294.1 377.15,295.1 377.21,296.0 377.27,295.1 377.33,297.0 377.39,285.2 377.45,289.0 377.51,290.6 377.57,293.2 377.63,301.3 377.69,297.0 377.75,302.4 377.81,300.2 377.87,289.8 377.93,300.2 377.99,303.6 378.05,283.1 378.11,285.9 378.17,296.0 378.23,299.1 378.29,289.0 378.35,292.3 378.41,287.4 378.47,303.6 378.53,297.0 378.59,303.6 378.65,303.6 378.71,294.1 378.77,297.0 378.83,300.2 378.89,304.8 378.95,293.2 379.01,290.6 379.07,310.2 379.13,292.3 379.19,286.7 379.25,295.1 379.31,299.1 379.37,286.7 379.43,294.1 379.49,297.0 379.55,298.0 379.61,298.0 379.67,302.4 379.73,295.1 379.79,289.0 379.85,300.2 379.91,288.2 379.97,302.4 380.03,288.2 380.09,286.7 380.15,303.6 380.21,293.2 380.27,292.3 380.33,297.0 380.39,300.2 380.46,300.2 380.52,295.1 380.58,300.2 380.64,291.5 380.70,293.2 380.76,298.0 380.82,296.0 380.88,296.0 380.94,310.2 381.00,289.8 381.06,285.2 381.12,285.2 381.18,292.3 381.24,293.2 381.30,289.0 381.36,298.0 381.42,290.6 381.48,286.7 381.54,295.1 381.60,298.0 381.66,289.0 381.72,291.5 381.78,293.2 381.84,303.6 381.90,299.1 381.96,290.6 382.02,313.2 382.08,292.3 382.14,291.5 382.20,287.4 382.26,296.0 382.32,296.0 382.38,288.2 382.44,292.3 382.50,299.1 382.56,295.1 382.62,300.2 382.68,306.1 382.74,292.3 382.80,285.9 382.86,297.0 382.92,296.0 382.98,300.2 383.04,289.0 383.10,287.4 383.16,289.8 383.22,279.8 383.28,298.0 383.34,299.1 383.40,289.8 383.46,300.2 383.52,292.3 383.58,291.5 383.64,296.0 383.70,288.2 383.76,292.3 383.82,292.3 383.88,296.0 383.94,292.3 384.00,292.3 384.06,286.7 384.12,292.3 384.18,298.0 384.25,288.2 384.31,304.8 384.37,307.4 384.43,293.2 384.49,294.1 384.55,301.3 384.61,300.2 384.67,289.8 384.73,307.4 384.79,299.1 384.85,292.3 384.91,289.0 384.97,294.1 385.03,289.8 385.09,294.1 385.15,303.6 385.21,289.0 385.27,289.8 385.33,284.5 385.39,303.6 385.45,291.5 385.51,297.0 385.57,296.0 385.63,293.2 385.69,289.8 385.75,294.1 385.81,298.0 385.87,300.2 385.93,290.6 385.99,290.6 386.05,298.0 386.11,295.1 386.17,281.1 386.23,300.2 386.29,306.1 386.35,289.0 386.41,283.8 386.47,299.1 386.53,291.5 386.59,292.3 386.65,294.1 386.71,289.8 386.77,290.6 386.83,287.4 386.89,285.9 386.95,304.8 387.01,297.0 387.07,296.0 387.13,290.6 387.19,287.4 387.25,292.3 387.31,283.8 387.37,303.6 387.43,291.5 387.49,292.3 387.55,299.1 387.61,299.1 387.67,281.1 387.73,285.9 387.79,293.2 387.85,310.2 387.91,294.1 387.98,293.2 388.04,303.6 388.10,290.6 388.16,287.4 388.22,289.8 388.28,294.1 388.34,289.8 388.40,299.1 388.46,301.3 388.52,286.7 388.58,292.3 388.64,292.3 388.70,303.6 388.76,285.2 388.82,283.8 388.88,301.3 388.94,289.0 389.00,294.1 389.06,285.9 389.12,303.6 389.18,289.8 389.24,298.0 389.30,297.0 389.36,302.4 389.42,290.6 389.48,299.1 389.54,290.6 389.60,296.0 389.66,292.3 389.72,310.2 389.78,293.2 389.84,304.8 389.90,298.0 389.96,304.8 390.02,297.0 390.08,295.1 390.14,297.0 390.20,299.1 390.26,299.1 390.32,307.4 390.38,292.3 390.44,300.2 390.50,306.1 390.56,290.6 390.62,283.1 390.68,314.8 390.74,307.4 390.80,303.6 390.86,306.1 390.92,310.2 390.98,290.6 391.04,294.1 391.10,293.2 391.16,303.6 391.22,294.1 391.28,298.0 391.34,307.4 391.40,303.6 391.46,298.0 391.52,294.1 391.58,298.0 391.64,291.5 391.70,300.2 391.77,292.3 391.83,302.4 391.89,301.3 391.95,295.1 392.01,301.3 392.07,299.1 392.13,308.8 392.19,307.4 392.25,314.8 392.31,299.1 392.37,304.8 392.43,295.1 392.49,310.2 392.55,298.0 392.61,299.1 392.67,303.6 392.73,296.0 392.79,316.5 392.85,298.0 392.91,304.8 392.97,296.0 393.03,292.3 393.09,298.0 393.15,302.4 393.21,293.2 393.27,299.1 393.33,303.6 393.39,311.7 393.45,302.4 393.51,298.0 393.57,308.8 393.63,324.1 393.69,310.2 393.75,310.2 393.81,301.3 393.87,307.4 393.93,306.1 393.99,300.2 394.05,293.2 394.11,298.0 394.17,291.5 394.23,280.5 394.29,267.3 394.35,253.0 394.41,235.9 394.47,219.3 394.53,206.3 394.59,195.2 394.65,184.9 394.71,174.6 394.77,167.3 394.83,157.6 394.89,155.7 394.95,154.6 395.01,154.6 395.07,157.0 395.13,157.6 395.19,154.6 395.25,172.3 395.31,178.1 395.37,189.0 395.43,200.4 395.50,212.8 395.56,226.6 395.62,246.8 395.68,255.8 395.74,273.0 395.80,279.8 395.86,283.8 395.92,295.1 395.98,298.0 396.04,314.8 396.10,301.3 396.16,303.6 396.22,310.2 396.28,307.4 396.34,316.5 396.40,311.7 396.46,307.4 396.52,300.2 396.58,300.2 396.64,318.2 396.70,314.8 396.76,304.8 396.82,311.7 396.88,311.7 396.94,310.2 397.00,316.5 397.06,304.8 397.12,318.2 397.18,302.4 397.24,300.2 397.30,324.1 397.36,316.5 397.42,326.3 397.48,310.2 397.54,303.6 397.60,316.5 397.66,307.4 397.72,306.1 397.78,304.8 397.84,310.2 397.90,308.8 397.96,311.7 398.02,316.5 398.08,316.5 398.14,297.0 398.20,301.3 398.26,307.4 398.32,300.2 398.38,316.5 398.44,308.8 398.50,318.2 398.56,297.0 398.62,322.0 398.68,316.5 398.74,318.2 398.80,314.8 398.86,316.5 398.92,310.2 398.98,306.1 399.04,308.8 399.10,313.2 399.16,306.1 399.22,301.3 399.29,314.8 399.35,299.1 399.41,302.4 399.47,304.8 399.53,310.2 399.59,308.8 399.65,320.1 399.71,318.2 399.77,310.2 399.83,311.7 399.89,308.8 399.95,306.1 400.01,314.8 400.07,324.1 400.13,316.5 400.19,303.6 400.25,324.1 400.31,301.3 400.37,308.8 400.43,307.4 400.49,298.0 400.55,310.2 400.61,307.4 400.67,307.4 400.73,301.3 400.79,320.1 400.85,311.7 400.91,314.8 400.97,306.1 401.03,306.1 401.09,307.4 401.15,299.1 401.21,311.7 401.27,316.5 401.33,303.6 401.39,311.7 401.45,304.8 401.51,304.8 401.57,324.1 401.63,310.2 401.69,310.2 401.75,306.1 401.81,322.0 401.87,316.5 401.93,307.4 401.99,306.1 402.05,296.0 402.11,306.1 402.17,310.2 402.23,316.5 402.29,308.8 402.35,310.2 402.41,310.2 402.47,318.2 402.53,307.4 402.59,310.2 402.65,318.2 402.71,311.7 402.77,316.5 402.83,313.2 402.89,311.7 402.95,308.8 403.02,313.2 403.08,307.4 403.14,306.1 403.20,308.8 403.26,306.1 403.32,316.5 403.38,313.2 403.44,302.4 403.50,310.2 403.56,324.1 403.62,331.1 403.68,303.6 403.74,331.1 403.80,294.1 403.86,316.5 403.92,322.0 403.98,313.2 404.04,318.2 404.10,297.0 404.16,303.6 404.22,311.7 404.28,322.0 404.34,318.2 404.40,313.2 404.46,324.1 404.52,308.8 404.58,320.1 404.64,297.0 404.70,307.4 404.76,316.5 404.82,304.8 404.88,314.8 404.94,328.6 405.00,316.5 405.06,320.1 405.12,314.8 405.18,320.1 405.24,304.8 405.30,306.1 405.36,313.2 405.42,306.1 405.48,318.2 405.54,314.8 405.60,306.1 405.66,328.6 405.72,302.4 405.78,310.2 405.84,326.3 405.90,304.8 405.96,316.5 406.02,310.2 406.08,320.1 406.14,311.7 406.20,314.8 406.26,304.8 406.32,328.6 406.38,306.1 406.44,322.0 406.50,313.2 406.56,314.8 406.62,320.1 406.68,313.2 406.74,304.8 406.81,308.8 406.87,314.8 406.93,302.4 406.99,331.1 407.05,333.8 407.11,314.8 407.17,314.8 407.23,303.6 407.29,320.1 407.35,320.1 407.41,314.8 407.47,326.3 407.53,322.0 407.59,314.8 407.65,306.1 407.71,320.1 407.77,316.5 407.83,300.2 407.89,320.1 407.95,324.1 408.01,310.2 408.07,307.4 408.13,302.4 408.19,304.8 408.25,331.1 408.31,318.2 408.37,316.5 408.43,313.2 408.49,313.2 408.55,320.1 408.61,331.1 408.67,316.5 408.73,300.2 408.79,302.4 408.85,316.5 408.91,324.1 408.97,326.3 409.03,322.0 409.09,306.1 409.15,331.1 409.21,331.1 409.27,316.5 409.33,307.4 409.39,328.6 409.45,306.1 409.51,322.0 409.57,311.7 409.63,307.4 409.69,316.5 409.75,336.7 409.81,310.2 409.87,316.5 409.93,307.4 409.99,322.0 410.05,328.6 410.11,316.5 410.17,313.2 410.23,311.7 410.29,306.1 410.35,320.1 410.41,316.5 410.47,322.0 410.54,318.2 410.60,320.1 410.66,311.7 410.72,331.1 410.78,316.5 410.84,326.3 410.90,318.2 410.96,324.1 411.02,313.2 411.08,339.8 411.14,324.1 411.20,314.8 411.26,313.2 411.32,322.0 411.38,313.2 411.44,298.0 411.50,306.1 411.56,314.8 411.62,336.7 411.68,314.8 411.74,322.0 411.80,324.1 411.86,313.2 411.92,306.1 411.98,328.6 412.04,326.3 412.10,322.0 412.16,313.2 412.22,322.0 412.28,320.1 412.34,310.2 412.40,328.6 412.46,310.2 412.52,320.1 412.58,333.8 412.64,306.1 412.70,328.6 412.76,331.1 412.82,343.2 412.88,331.1 412.94,311.7 413.00,320.1 413.06,333.8 413.12,328.6 413.18,324.1 413.24,313.2 413.30,324.1 413.36,331.1 413.42,324.1 413.48,324.1 413.54,316.5 413.60,318.2 413.66,307.4 413.72,320.1 413.78,314.8 413.84,310.2 413.90,336.7 413.96,311.7 414.02,331.1 414.08,326.3 414.14,326.3 414.20,314.8 414.26,322.0 414.33,314.8 414.39,318.2 414.45,322.0 414.51,328.6 414.57,326.3 414.63,331.1 414.69,314.8 414.75,326.3 414.81,314.8 414.87,316.5 414.93,322.0 414.99,314.8 415.05,316.5 415.11,314.8 415.17,308.8 415.23,328.6 415.29,316.5 415.35,324.1 415.41,313.2 415.47,328.6 415.53,326.3 415.59,320.1 415.65,314.8 415.71,326.3 415.77,313.2 415.83,336.7 415.89,318.2 415.95,318.2 416.01,322.0 416.07,310.2 416.13,333.8 416.19,314.8 416.25,322.0 416.31,308.8 416.37,326.3 416.43,331.1 416.49,322.0 416.55,320.1 416.61,320.1 416.67,313.2 416.73,326.3 416.79,311.7 416.85,320.1 416.91,333.8 416.97,336.7 417.03,333.8 417.09,318.2 417.15,326.3 417.21,316.5 417.27,351.3 417.33,320.1 417.39,322.0 417.45,320.1 417.51,324.1 417.57,318.2 417.63,324.1 417.69,320.1 417.75,331.1 417.81,343.2 417.87,316.5 417.93,308.8 417.99,322.0 418.06,324.1 418.12,336.7 418.18,324.1 418.24,328.6 418.30,333.8 418.36,322.0 418.42,326.3 418.48,333.8 418.54,336.7 418.60,313.2 418.66,343.2 418.72,324.1 418.78,336.7 418.84,320.1 418.90,333.8 418.96,320.1 419.02,331.1 419.08,333.8 419.14,328.6 419.20,333.8 419.26,324.1 419.32,314.8 419.38,324.1 419.44,316.5 419.50,314.8 419.56,336.7 419.62,339.8 419.68,320.1 419.74,311.7 419.80,333.8 419.86,322.0 419.92,313.2 419.98,322.0 420.04,306.1 420.10,320.1 420.16,322.0 420.22,347.0 420.28,318.2 420.34,313.2 420.40,316.5 420.46,314.8 420.52,314.8 420.58,316.5 420.64,322.0 420.70,328.6 420.76,322.0 420.82,324.1 420.88,333.8 420.94,324.1 421.00,322.0 421.06,318.2 421.12,320.1 421.18,336.7 421.24,322.0 421.30,347.0 421.36,322.0 421.42,318.2 421.48,331.1 421.54,326.3 421.60,316.5 421.66,339.8 421.72,322.0 421.78,313.2 421.85,316.5 421.91,322.0 421.97,336.7 422.03,324.1 422.09,324.1 422.15,318.2 422.21,324.1 422.27,326.3 422.33,310.2 422.39,331.1 422.45,320.1 422.51,308.8 422.57,343.2 422.63,326.3 422.69,324.1 422.75,333.8 422.81,320.1 422.87,313.2 422.93,336.7 422.99,339.8 423.05,307.4 423.11,316.5 423.17,314.8 423.23,339.8 423.29,336.7 423.35,322.0 423.41,324.1 423.47,343.2 423.53,314.8 423.59,326.3 423.65,328.6 423.71,322.0 423.77,331.1 423.83,310.2 423.89,328.6 423.95,326.3 424.01,322.0 424.07,331.1 424.13,328.6 424.19,339.8 424.25,336.7 424.31,316.5 424.37,333.8 424.43,324.1 424.49,336.7 424.55,328.6 424.61,331.1 424.67,347.0 424.73,318.2 424.79,320.1 424.85,324.1 424.91,328.6 424.97,333.8 425.03,343.2 425.09,326.3 425.15,333.8 425.21,328.6 425.27,324.1 425.33,336.7 425.39,333.8 425.45,322.0 425.51,339.8 425.58,328.6 425.64,322.0 425.70,333.8 425.76,328.6 425.82,320.1 425.88,324.1 425.94,333.8 426.00,322.0 426.06,331.1 426.12,351.3 426.18,331.1 426.24,322.0 426.30,339.8 426.36,326.3 426.42,324.1 426.48,326.3 426.54,328.6 426.60,320.1 426.66,324.1 426.72,331.1 426.78,336.7 426.84,326.3 426.90,314.8 426.96,336.7 427.02,328.6 427.08,347.0 427.14,320.1 427.20,322.0 427.26,331.1 427.32,328.6 427.38,333.8 427.44,339.8 427.50,336.7 427.56,336.7 427.62,333.8 427.68,324.1 427.74,331.1 427.80,336.7 427.86,320.1 427.92,343.2 427.98,336.7 428.04,316.5 428.10,328.6 428.16,320.1 428.22,324.1 428.28,324.1 428.34,320.1 428.40,331.1 428.46,339.8 428.52,351.3 428.58,316.5 428.64,356.1 428.70,343.2 428.76,347.0 428.82,333.8 428.88,326.3 428.94,318.2 429.00,320.1 429.06,318.2 429.12,322.0 429.18,336.7 429.24,324.1 429.30,336.7 429.37,336.7 429.43,333.8 429.49,324.1 429.55,316.5 429.61,339.8 429.67,351.3 429.73,333.8 429.79,336.7 429.85,333.8 429.91,324.1 429.97,333.8 430.03,339.8 430.09,333.8 430.15,336.7 430.21,339.8 430.27,333.8 430.33,351.3 430.39,343.2 430.45,328.6 430.51,320.1 430.57,326.3 430.63,324.1 430.69,310.2 430.75,339.8 430.81,347.0 430.87,347.0 430.93,333.8 430.99,351.3 431.05,361.7 431.11,333.8 431.17,326.3 431.23,322.0 431.29,343.2 431.35,333.8 431.41,331.1 431.47,326.3 431.53,333.8 431.59,320.1 431.65,316.5 431.71,316.5 431.77,322.0 431.83,320.1 431.89,347.0 431.95,368.2 432.01,339.8 432.07,331.1 432.13,351.3 432.19,320.1 432.25,328.6 432.31,326.3 432.37,336.7 432.43,326.3 432.49,320.1 432.55,333.8 432.61,328.6 432.67,320.1 432.73,328.6 432.79,333.8 432.85,336.7 432.91,328.6 432.97,351.3 433.03,343.2 433.10,333.8 433.16,339.8 433.22,324.1 433.28,320.1 433.34,336.7 433.40,331.1 433.46,326.3 433.52,328.6 433.58,339.8 433.64,331.1 433.70,324.1 433.76,331.1 433.82,328.6 433.88,328.6 433.94,351.3 434.00,339.8 434.06,331.1 434.12,339.8 434.18,328.6 434.24,316.5 434.30,333.8 434.36,324.1 434.42,347.0 434.48,326.3 434.54,356.1 434.60,347.0 434.66,328.6 434.72,333.8 434.78,328.6 434.84,336.7 434.90,333.8 434.96,339.8 435.02,320.1 435.08,336.7 435.14,343.2 435.20,322.0 435.26,324.1 435.32,339.8 435.38,331.1 435.44,326.3 435.50,318.2 435.56,333.8 435.62,311.7 435.68,333.8 435.74,302.4 435.80,313.2 435.86,297.0 435.92,287.4 435.98,286.7 436.04,283.8 436.10,270.3 436.16,269.6 436.22,270.3 436.28,267.3 436.34,270.3 436.40,270.3 436.46,267.3 436.52,270.6 436.58,279.2 436.64,289.0 436.70,287.4 436.76,300.2 436.82,308.8 436.89,311.7 436.95,328.6 437.01,333.8 437.07,322.0 437.13,326.3 437.19,328.6 437.25,331.1 437.31,326.3 437.37,324.1 437.43,343.2 437.49,328.6 437.55,333.8 437.61,356.1 437.67,356.1 437.73,333.8 437.79,333.8 437.85,339.8 437.91,333.8 437.97,336.7 438.03,331.1 438.09,336.7 438.15,336.7 438.21,320.1 438.27,328.6 438.33,356.1 438.39,336.7 438.45,343.2 438.51,333.8 438.57,333.8 438.63,347.0 438.69,326.3 438.75,326.3 438.81,331.1 438.87,331.1 438.93,328.6 438.99,351.3 439.05,331.1 439.11,339.8 439.17,336.7 439.23,333.8 439.29,361.7 439.35,343.2 439.41,331.1 439.47,336.7 439.53,326.3 439.59,333.8 439.65,339.8 439.71,339.8 439.77,328.6 439.83,322.0 439.89,331.1 439.95,316.5 440.01,328.6 440.07,324.1 440.13,368.2 440.19,336.7 440.25,320.1 440.31,333.8 440.37,336.7 440.43,343.2 440.49,347.0 440.55,331.1 440.62,322.0 440.68,328.6 440.74,347.0 440.80,336.7 440.86,336.7 440.92,328.6 440.98,356.1 441.04,331.1 441.10,336.7 441.16,331.1 441.22,328.6 441.28,326.3 441.34,314.8 441.40,343.2 441.46,333.8 441.52,328.6 441.58,339.8 441.64,361.7 441.70,333.8 441.76,347.0 441.82,331.1 441.88,331.1 441.94,326.3 442.00,328.6 442.06,336.7 442.12,356.1 442.18,324.1 442.24,322.0 442.30,322.0 442.36,322.0 442.42,322.0 442.48,376.3 442.54,333.8 442.60,316.5 442.66,324.1 442.72,339.8 442.78,351.3 442.84,336.7 442.90,318.2 442.96,328.6 443.02,351.3 443.08,320.1 443.14,333.8 443.20,326.3 443.26,347.0 443.32,320.1 443.38,339.8 443.44,333.8 443.50,333.8 443.56,331.1 443.62,331.1 443.68,343.2 443.74,326.3 443.80,347.0 443.86,343.2 443.92,322.0 443.98,333.8 444.04,343.2 444.10,333.8 444.16,331.1 444.22,326.3 444.28,313.2 444.34,339.8 444.41,328.6 444.47,347.0 444.53,343.2 444.59,322.0 444.65,328.6 444.71,326.3 444.77,333.8 444.83,331.1 444.89,336.7 444.95,351.3 445.01,331.1 445.07,339.8 445.13,328.6 445.19,316.5 445.25,326.3 445.31,333.8 445.37,336.7 445.43,328.6 445.49,310.2 445.55,339.8 445.61,343.2 445.67,336.7 445.73,336.7 445.79,324.1 445.85,339.8 445.91,339.8 445.97,336.7 446.03,316.5 446.09,318.2 446.15,331.1 446.21,324.1 446.27,336.7 446.33,343.2 446.39,320.1 446.45,333.8 446.51,326.3 446.57,328.6 446.63,324.1 446.69,331.1 446.75,320.1 446.81,347.0 446.87,328.6 446.93,333.8 446.99,331.1 447.05,339.8 447.11,328.6 447.17,333.8 447.23,336.7 447.29,339.8 447.35,328.6 447.41,331.1 447.47,324.1 447.53,324.1 447.59,333.8 447.65,339.8 447.71,336.7 447.77,326.3 447.83,320.1 447.89,326.3 447.95,328.6 448.01,347.0 448.07,328.6 448.14,322.0 448.20,326.3 448.26,324.1 448.32,326.3 448.38,331.1 448.44,328.6 448.50,318.2 448.56,328.6 448.62,333.8 448.68,331.1 448.74,320.1 448.80,326.3 448.86,347.0 448.92,326.3 448.98,322.0 449.04,331.1 449.10,328.6 449.16,361.7 449.22,339.8 449.28,336.7 449.34,318.2 449.40,318.2 449.46,322.0 449.52,351.3 449.58,347.0 449.64,322.0 449.70,328.6 449.76,326.3 449.82,326.3 449.88,324.1 449.94,331.1 450.00,324.1 450.06,322.0 450.12,328.6 450.18,324.1 450.24,343.2 450.30,331.1 450.36,322.0 450.42,318.2 450.48,318.2 450.54,322.0 450.60,328.6 450.66,339.8 450.72,326.3 450.78,328.6 450.84,318.2 450.90,328.6 450.96,318.2 451.02,333.8 451.08,333.8 451.14,316.5 451.20,333.8 451.26,326.3 451.32,339.8 451.38,331.1 451.44,333.8 451.50,336.7 451.56,333.8 451.62,324.1 451.68,343.2 451.74,318.2 451.80,320.1 451.86,318.2 451.93,326.3 451.99,343.2 452.05,318.2 452.11,320.1 452.17,333.8 452.23,320.1 452.29,343.2 452.35,336.7 452.41,326.3 452.47,339.8 452.53,361.7 452.59,322.0 452.65,322.0 452.71,343.2 452.77,324.1 452.83,324.1 452.89,331.1 452.95,326.3 453.01,324.1 453.07,333.8 453.13,322.0 453.19,307.4 453.25,289.0 453.31,276.3 453.37,264.4 453.43,244.1 453.49,224.5 453.55,211.3 453.61,200.2 453.67,189.5 453.73,179.1 453.79,171.3 453.85,164.6 453.91,154.0 453.97,154.0 454.03,151.8 454.09,151.0 454.15,151.8 454.21,154.0 454.27,151.0 454.33,162.2 454.39,168.0 454.45,176.2 454.51,186.5 454.57,199.8 454.63,210.0 454.69,229.1 454.75,238.8 454.81,256.7 454.87,276.8 454.93,285.2 454.99,307.4 455.05,320.1 455.11,316.5 455.17,339.8 455.23,339.8 455.29,361.7 455.35,333.8 455.41,356.1 455.47,351.3 455.53,361.7 455.59,347.0 455.66,351.3 455.72,333.8 455.78,336.7 455.84,339.8 455.90,356.1 455.96,339.8 456.02,339.8 456.08,368.2 456.14,361.7 456.20,343.2 456.26,339.8 456.32,343.2 456.38,347.0 456.44,336.7 456.50,339.8 456.56,361.7 456.62,351.3 456.68,343.2 456.74,339.8 456.80,339.8 456.86,339.8 456.92,331.1 456.98,347.0 457.04,331.1 457.10,356.1 457.16,336.7 457.22,347.0 457.28,339.8 457.34,343.2 457.40,343.2 457.46,343.2 457.52,331.1 457.58,336.7 457.64,361.7 457.70,326.3 457.76,347.0 457.82,356.1 457.88,333.8 457.94,339.8 458.00,339.8 458.06,333.8 458.12,318.2 458.18,347.0 458.24,333.8 458.30,356.1 458.36,339.8 458.42,351.3 458.48,347.0 458.54,339.8 458.60,331.1 458.66,347.0 458.72,331.1 458.78,351.3 458.84,322.0 458.90,351.3 458.96,343.2 459.02,356.1 459.08,336.7 459.14,343.2 459.20,343.2 459.26,351.3 459.32,386.7 459.38,331.1 459.45,376.3 459.51,336.7 459.57,343.2 459.63,343.2 459.69,336.7 459.75,351.3 459.81,336.7 459.87,343.2 459.93,361.7 459.99,333.8 460.05,351.3 460.11,351.3 460.17,351.3 460.23,320.1 460.29,343.2 460.35,351.3 460.41,356.1 460.47,343.2 460.53,361.7 460.59,336.7 460.65,361.7 460.71,347.0 460.77,351.3 460.83,347.0 460.89,356.1 460.95,347.0 461.01,343.2 461.07,351.3 461.13,347.0 461.19,336.7 461.25,339.8 461.31,336.7 461.37,351.3 461.43,343.2 461.49,333.8 461.55,343.2 461.61,331.1 461.67,376.3 461.73,339.8 461.79,347.0 461.85,347.0 461.91,356.1 461.97,361.7 462.03,333.8 462.09,336.7 462.15,401.3 462.21,351.3 462.27,347.0 462.33,336.7 462.39,347.0 462.45,351.3 462.51,328.6 462.57,324.1 462.63,368.2 462.69,356.1 462.75,347.0 462.81,336.7 462.87,336.7 462.93,333.8 462.99,339.8 463.05,331.1 463.11,361.7 463.18,328.6 463.24,343.2 463.30,356.1 463.36,343.2 463.42,322.0 463.48,343.2 463.54,351.3 463.60,322.0 463.66,356.1 463.72,336.7 463.78,336.7 463.84,331.1 463.90,331.1 463.96,343.2 464.02,331.1 464.08,361.7 464.14,356.1 464.20,347.0 464.26,324.1 464.32,336.7 464.38,361.7 464.44,336.7 464.50,336.7 464.56,351.3 464.62,343.2 464.68,356.1 464.74,343.2 464.80,328.6 464.86,333.8 464.92,376.3 464.98,356.1 465.04,361.7 465.10,343.2 465.16,347.0 465.22,333.8 465.28,347.0 465.34,347.0 465.40,328.6 465.46,347.0 465.52,351.3 465.58,339.8 465.64,336.7 465.70,331.1 465.76,356.1 465.82,339.8 465.88,376.3 465.94,339.8 466.00,339.8 466.06,339.8 466.12,339.8 466.18,351.3 466.24,347.0 466.30,343.2 466.36,339.8 466.42,347.0 466.48,347.0 466.54,347.0 466.60,347.0 466.66,347.0 466.72,339.8 466.78,361.7 466.84,336.7 466.90,343.2 466.97,356.1 467.03,333.8 467.09,339.8 467.15,347.0 467.21,339.8 467.27,339.8 467.33,351.3 467.39,347.0 467.45,339.8 467.51,326.3 467.57,376.3 467.63,331.1 467.69,336.7 467.75,356.1 467.81,356.1 467.87,336.7 467.93,343.2 467.99,339.8 468.05,333.8 468.11,347.0 468.17,347.0 468.23,356.1 468.29,322.0 468.35,351.3 468.41,356.1 468.47,351.3 468.53,356.1 468.59,343.2 468.65,333.8 468.71,343.2 468.77,339.8 468.83,351.3 468.89,356.1 468.95,339.8 469.01,339.8 469.07,351.3 469.13,347.0 469.19,343.2 469.25,361.7 469.31,361.7 469.37,351.3 469.43,347.0 469.49,331.1 469.55,343.2 469.61,347.0 469.67,361.7 469.73,333.8 469.79,331.1 469.85,361.7 469.91,351.3 469.97,343.2 470.03,336.7 470.09,351.3 470.15,361.7 470.21,351.3 470.27,336.7 470.33,351.3 470.39,336.7 470.45,336.7 470.51,333.8 470.57,339.8 470.63,324.1 470.70,361.7 470.76,333.8 470.82,376.3 470.88,343.2 470.94,351.3 471.00,336.7 471.06,336.7 471.12,356.1 471.18,368.2 471.24,343.2 471.30,368.2 471.36,339.8 471.42,316.5 471.48,343.2 471.54,333.8 471.60,347.0 471.66,336.7 471.72,351.3 471.78,347.0 471.84,339.8 471.90,356.1 471.96,343.2 472.02,356.1 472.08,351.3 472.14,339.8 472.20,351.3 472.26,343.2 472.32,351.3 472.38,347.0 472.44,376.3 472.50,339.8 472.56,356.1 472.62,339.8 472.68,336.7 472.74,343.2 472.80,351.3 472.86,336.7 472.92,351.3 472.98,333.8 473.04,331.1 473.10,339.8 473.16,331.1 473.22,351.3 473.28,336.7 473.34,343.2 473.40,333.8 473.46,347.0 473.52,351.3 473.58,328.6 473.64,339.8 473.70,376.3 473.76,356.1 473.82,351.3 473.88,356.1 473.94,356.1 474.00,376.3 474.06,351.3 474.12,347.0 474.18,351.3 474.24,356.1 474.30,331.1 474.36,336.7 474.42,347.0 474.49,356.1 474.55,347.0 474.61,336.7 474.67,339.8 474.73,351.3 474.79,343.2 474.85,331.1 474.91,343.2 474.97,328.6 475.03,361.7 475.09,343.2 475.15,339.8 475.21,339.8 475.27,336.7 475.33,328.6 475.39,361.7 475.45,361.7 475.51,347.0 475.57,368.2 475.63,339.8 475.69,351.3 475.75,347.0 475.81,333.8 475.87,368.2 475.93,347.0 475.99,347.0 476.05,343.2 476.11,336.7 476.17,331.1 476.23,361.7 476.29,351.3 476.35,339.8 476.41,347.0 476.47,339.8 476.53,376.3 476.59,333.8 476.65,343.2 476.71,339.8 476.77,343.2 476.83,368.2 476.89,343.2 476.95,356.1 477.01,361.7 477.07,343.2 477.13,333.8 477.19,356.1 477.25,376.3 477.31,328.6 477.37,339.8 477.43,336.7 477.49,376.3 477.55,339.8 477.61,326.3 477.67,343.2 477.73,333.8 477.79,356.1 477.85,331.1 477.91,376.3 477.97,386.7 478.03,351.3 478.09,361.7 478.15,351.3 478.22,343.2 478.28,343.2 478.34,347.0 478.40,356.1 478.46,361.7 478.52,356.1 478.58,331.1 478.64,333.8 478.70,333.8 478.76,368.2 478.82,339.8 478.88,376.3 478.94,386.7 479.00,343.2 479.06,356.1 479.12,351.3 479.18,347.0 479.24,376.3 479.30,356.1 479.36,351.3 479.42,347.0 479.48,361.7 479.54,361.7 479.60,351.3 479.66,339.8 479.72,376.3 479.78,339.8 479.84,333.8 479.90,343.2 479.96,356.1 480.02,326.3 480.08,343.2 480.14,368.2 480.20,356.1 480.26,368.2 480.32,351.3 480.38,356.1 480.44,339.8 480.50,339.8 480.56,331.1 480.62,368.2 480.68,368.2 480.74,320.1 480.80,356.1 480.86,361.7 480.92,336.7 480.98,401.3 481.04,351.3 481.10,361.7 481.16,368.2 481.22,347.0 481.28,331.1 481.34,347.0 481.40,351.3 481.46,343.2 481.52,356.1 481.58,331.1 481.64,356.1 481.70,331.1 481.76,376.3 481.82,351.3 481.88,351.3 481.94,339.8 482.01,368.2 482.07,356.1 482.13,361.7 482.19,343.2 482.25,339.8 482.31,356.1 482.37,356.1 482.43,356.1 482.49,351.3 482.55,361.7 482.61,343.2 482.67,343.2 482.73,361.7 482.79,343.2 482.85,343.2 482.91,361.7 482.97,336.7 483.03,356.1 483.09,386.7 483.15,356.1 483.21,339.8 483.27,361.7 483.33,361.7 483.39,351.3 483.45,324.1 483.51,333.8 483.57,343.2 483.63,356.1 483.69,368.2 483.75,361.7 483.81,351.3 483.87,386.7 483.93,339.8 483.99,331.1 484.05,343.2 484.11,361.7 484.17,343.2 484.23,347.0 484.29,356.1 484.35,339.8 484.41,333.8 484.47,376.3 484.53,376.3 484.59,351.3 484.65,331.1 484.71,361.7 484.77,426.3 484.83,368.2 484.89,333.8 484.95,361.7 485.01,351.3 485.07,361.7 485.13,361.7 485.19,336.7 485.25,351.3 485.31,351.3 485.37,351.3 485.43,426.3 485.49,351.3 485.55,339.8 485.61,368.2 485.67,343.2 485.74,368.2 485.80,347.0 485.86,361.7 485.92,351.3 485.98,347.0 486.04,368.2 486.10,343.2 486.16,347.0 486.22,376.3 486.28,343.2 486.34,351.3 486.40,336.7 486.46,356.1 486.52,361.7 486.58,343.2 486.64,351.3 486.70,376.3 486.76,376.3 486.82,376.3 486.88,361.7 486.94,376.3 487.00,347.0 487.06,336.7 487.12,356.1 487.18,361.7 487.24,343.2 487.30,347.0 487.36,356.1 487.42,351.3 487.48,368.2 487.54,347.0 487.60,356.1 487.66,336.7 487.72,339.8 487.78,361.7 487.84,386.7 487.90,333.8 487.96,351.3 488.02,351.3 488.08,339.8 488.14,339.8 488.20,356.1 488.26,343.2 488.32,351.3 488.38,328.6 488.44,368.2 488.50,351.3 488.56,339.8 488.62,351.3 488.68,351.3 488.74,356.1 488.80,333.8 488.86,339.8 488.92,336.7 488.98,376.3 489.04,356.1 489.10,343.2 489.16,361.7 489.22,351.3 489.28,343.2 489.34,356.1 489.40,356.1 489.46,351.3 489.53,343.2 489.59,343.2 489.65,347.0 489.71,356.1 489.77,351.3 489.83,351.3 489.89,368.2 489.95,347.0 490.01,343.2 490.07,351.3 490.13,333.8 490.19,347.0 490.25,361.7 490.31,328.6 490.37,347.0 490.43,347.0 490.49,343.2 490.55,331.1 490.61,347.0 490.67,347.0 490.73,343.2 490.79,356.1 490.85,347.0 490.91,351.3 490.97,351.3 491.03,339.8 491.09,343.2 491.15,336.7 491.21,351.3 491.27,361.7 491.33,351.3 491.39,347.0 491.45,351.3 491.51,361.7 491.57,356.1 491.63,343.2 491.69,336.7 491.75,356.1 491.81,347.0 491.87,326.3 491.93,347.0 491.99,339.8 492.05,339.8 492.11,368.2 492.17,351.3 492.23,356.1 492.29,347.0 492.35,333.8 492.41,339.8 492.47,361.7 492.53,343.2 492.59,347.0 492.65,351.3 492.71,347.0 492.77,343.2 492.83,347.0 492.89,343.2 492.95,339.8 493.01,361.7 493.07,356.1 493.13,361.7 493.19,347.0 493.26,333.8 493.32,368.2 493.38,347.0 493.44,361.7 493.50,351.3 493.56,343.2 493.62,361.7 493.68,333.8 493.74,356.1 493.80,361.7 493.86,339.8 493.92,376.3 493.98,351.3 494.04,343.2 494.10,343.2 494.16,343.2 494.22,333.8 494.28,356.1 494.34,356.1 494.40,347.0 494.46,356.1 494.52,336.7 494.58,356.1 494.64,333.8 494.70,322.0 494.76,316.5 494.82,301.3 494.88,306.1 494.94,313.2 495.00,302.4 495.06,303.6 495.12,301.3 495.18,301.3 495.24,301.3 495.30,304.3 495.36,301.3 495.42,326.3 495.48,308.8 495.54,310.2 495.60,328.6 495.66,339.8 495.72,333.8 495.78,339.8 495.84,324.1 495.90,326.3 495.96,351.3 496.02,356.1 496.08,356.1 496.14,351.3 496.20,356.1 496.26,356.1 496.32,361.7 496.38,368.2 496.44,347.0 496.50,336.7 496.56,343.2 496.62,351.3 496.68,333.8 496.74,368.2 496.80,339.8 496.86,351.3 496.92,347.0 496.98,339.8 497.05,356.1 497.11,361.7 497.17,361.7 497.23,343.2 497.29,361.7 497.35,351.3 497.41,343.2 497.47,356.1 497.53,333.8 497.59,339.8 497.65,361.7 497.71,356.1 497.77,356.1 497.83,339.8 497.89,347.0 497.95,351.3 498.01,347.0 498.07,361.7 498.13,376.3 498.19,347.0 498.25,347.0 498.31,328.6 498.37,343.2 498.43,322.0 498.49,351.3 498.55,339.8 498.61,351.3 498.67,351.3 498.73,351.3 498.79,347.0 498.85,356.1 498.91,361.7 498.97,356.1 499.03,376.3 499.09,336.7 499.15,336.7 499.21,361.7 499.27,333.8 499.33,368.2 499.39,351.3 499.45,343.2 499.51,347.0 499.57,376.3 499.63,333.8 499.69,336.7 499.75,339.8 499.81,356.1 499.87,356.1 499.93,356.1 499.99,336.7 500.05,347.0 500.11,356.1 500.17,356.1 500.23,343.2 500.29,343.2 500.35,376.3 500.41,386.7 500.47,324.1 500.53,343.2 500.59,376.3 500.65,351.3 500.71,376.3 500.78,343.2 500.84,351.3 500.90,351.3 500.96,347.0 501.02,331.1 501.08,401.3 501.14,361.7 501.20,339.8 501.26,361.7 501.32,356.1 501.38,339.8 501.44,351.3 501.50,361.7 501.56,356.1 501.62,361.7 501.68,361.7 501.74,376.3 501.80,361.7 501.86,343.2 501.92,356.1 501.98,361.7 502.04,347.0 502.10,376.3 502.16,356.1 502.22,347.0 502.28,333.8 502.34,376.3 502.40,347.0 502.46,336.7 502.52,376.3 502.58,368.2 502.64,368.2 502.70,347.0 502.76,368.2 502.82,347.0 502.88,386.7 502.94,386.7 503.00,343.2 503.06,336.7 503.12,351.3 503.18,376.3 503.24,331.1 503.30,347.0 503.36,376.3 503.42,368.2 503.48,339.8 503.54,336.7 503.60,356.1 503.66,322.0 503.72,361.7 503.78,322.0 503.84,336.7 503.90,331.1 503.96,306.1 504.02,307.4 504.08,301.3 504.14,304.3 504.20,301.3 504.26,304.3 504.32,301.3 504.38,301.3 504.44,302.4 504.50,301.3 504.57,313.2 504.63,302.4 504.69,324.1 504.75,328.6 504.81,331.1 504.87,347.0 504.93,326.3 504.99,336.7 505.05,347.0 505.11,331.1 505.17,356.1 505.23,351.3 505.29,347.0 505.35,336.7 505.41,361.7 505.47,339.8 505.53,343.2 505.59,361.7 505.65,356.1 505.71,351.3 505.77,347.0 505.83,356.1 505.89,376.3 505.95,343.2 506.01,333.8 506.07,343.2 506.13,361.7 506.19,328.6 506.25,386.7 506.31,368.2 506.37,343.2 506.43,361.7 506.49,356.1 506.55,351.3 506.61,347.0 506.67,347.0 506.73,343.2 506.79,333.8 506.85,347.0 506.91,333.8 506.97,339.8 507.03,343.2 507.09,351.3 507.15,333.8 507.21,347.0 507.27,401.3 507.33,351.3 507.39,339.8 507.45,343.2 507.51,368.2 507.57,386.7 507.63,368.2 507.69,356.1 507.75,333.8 507.81,376.3 507.87,343.2 507.93,347.0 507.99,347.0 508.05,343.2 508.11,343.2 508.17,361.7 508.23,347.0 508.30,351.3 508.36,351.3 508.42,376.3 508.48,343.2 508.54,361.7 508.60,347.0 508.66,351.3 508.72,351.3 508.78,361.7 508.84,368.2 508.90,336.7 508.96,336.7 509.02,376.3 509.08,361.7 509.14,361.7 509.20,343.2 509.26,333.8 509.32,347.0 509.38,339.8 509.44,343.2 509.50,351.3 509.56,339.8 509.62,356.1 509.68,339.8 509.74,333.8 509.80,331.1 509.86,351.3 509.92,368.2 509.98,339.8 510.04,368.2 510.10,356.1 510.16,351.3 510.22,351.3 510.28,356.1 510.34,343.2 510.40,356.1 510.46,356.1 510.52,356.1 510.58,339.8 510.64,361.7 510.70,333.8 510.76,336.7 510.82,333.8 510.88,347.0 510.94,347.0 511.00,339.8 511.06,361.7 511.12,361.7 511.18,356.1 511.24,356.1 511.30,333.8 511.36,361.7 511.42,356.1 511.48,368.2 511.54,361.7 511.60,386.7 511.66,376.3 511.72,361.7 511.78,368.2 511.84,351.3 511.90,351.3 511.96,361.7 512.02,328.6 512.09,356.1 512.15,343.2 512.21,356.1 512.27,347.0 512.33,347.0 512.39,368.2 512.45,343.2 512.51,356.1 512.57,386.7 512.63,361.7 512.69,351.3 512.75,347.0 512.81,386.7 512.87,356.1 512.93,347.0 512.99,356.1 513.05,343.2 513.11,331.1 513.17,351.3 513.23,351.3 513.29,347.0 513.35,368.2 513.41,368.2 513.47,336.7 513.53,368.2 513.59,376.3 513.65,343.2 513.71,356.1 513.77,356.1 513.83,351.3 513.89,336.7 513.95,347.0 514.01,351.3 514.07,336.7 514.13,356.1 514.19,368.2 514.25,356.1 514.31,347.0 514.37,339.8 514.43,376.3 514.49,356.1 514.55,361.7 514.61,356.1 514.67,368.2 514.73,347.0 514.79,333.8 514.85,356.1 514.91,356.1 514.97,343.2 515.03,339.8 515.09,351.3 515.15,347.0 515.21,356.1 515.27,361.7 515.33,386.7 515.39,368.2 515.45,347.0 515.51,356.1 515.57,361.7 515.63,368.2 515.69,347.0 515.75,356.1 515.82,376.3 515.88,347.0 515.94,339.8 516.00,368.2 516.06,368.2 516.12,356.1 516.18,339.8 516.24,333.8 516.30,376.3 516.36,347.0 516.42,343.2 516.48,343.2 516.54,343.2 516.60,347.0 516.66,361.7 516.72,351.3 516.78,347.0 516.84,336.7 516.90,361.7 516.96,343.2 517.02,347.0 517.08,361.7 517.14,333.8 517.20,356.1 517.26,361.7 517.32,356.1 517.38,343.2 517.44,356.1 517.50,368.2 517.56,347.0 517.62,351.3 517.68,343.2 517.74,331.1 517.80,401.3 517.86,347.0 517.92,328.6 517.98,331.1 518.04,318.2 518.10,316.5 518.16,297.0 518.22,284.5 518.28,287.4 518.34,272.5 518.40,269.6 518.46,263.2 518.52,251.3 518.58,247.3 518.64,239.3 518.70,238.2 518.76,237.4 518.82,236.3 518.88,236.3 518.94,239.3 519.00,236.3 519.06,245.1 519.12,250.4 519.18,260.5 519.24,278.0 519.30,280.5 519.36,290.6 519.42,292.3 519.48,310.2 519.54,331.1 519.61,343.2 519.67,356.1 519.73,339.8 519.79,368.2 519.85,351.3 519.91,351.3 519.97,351.3 520.03,356.1 520.09,361.7 520.15,339.8 520.21,361.7 520.27,376.3 520.33,361.7 520.39,339.8 520.45,351.3 520.51,336.7 520.57,343.2 520.63,356.1 520.69,356.1 520.75,376.3 520.81,343.2 520.87,376.3 520.93,376.3 520.99,376.3 521.05,347.0 521.11,368.2 521.17,339.8 521.23,347.0 521.29,351.3 521.35,356.1 521.41,339.8 521.47,331.1 521.53,368.2 521.59,361.7 521.65,333.8 521.71,343.2 521.77,368.2 521.83,351.3 521.89,376.3 521.95,328.6 522.01,339.8 522.07,368.2 522.13,356.1 522.19,376.3 522.25,347.0 522.31,368.2 522.37,356.1 522.43,356.1 522.49,343.2 522.55,401.3 522.61,376.3 522.67,361.7 522.73,351.3 522.79,356.1 522.85,331.1 522.91,368.2 522.97,356.1 523.03,351.3 523.09,343.2 523.15,347.0 523.21,347.0 523.27,347.0 523.34,361.7 523.40,347.0 523.46,386.7 523.52,339.8 523.58,351.3 523.64,376.3 523.70,361.7 523.76,356.1 523.82,351.3 523.88,361.7 523.94,356.1 524.00,328.6 524.06,351.3 524.12,386.7 524.18,351.3 524.24,339.8 524.30,361.7 524.36,361.7 524.42,347.0 524.48,376.3 524.54,368.2 524.60,356.1 524.66,347.0 524.72,386.7 524.78,368.2 524.84,333.8 524.90,361.7 524.96,351.3 525.02,351.3 525.08,351.3 525.14,356.1 525.20,347.0 525.26,376.3 525.32,336.7 525.38,376.3 525.44,343.2 525.50,347.0 525.56,426.3 525.62,376.3 525.68,356.1 525.74,426.3 525.80,368.2 525.86,351.3 525.92,347.0 525.98,361.7 526.04,356.1 526.10,376.3 526.16,361.7 526.22,386.7 526.28,356.1 526.34,361.7 526.40,368.2 526.46,361.7 526.52,339.8 526.58,361.7 526.64,351.3 526.70,328.6 526.76,376.3 526.82,328.6 526.88,368.2 526.94,356.1 527.00,376.3 527.06,356.1 527.13,376.3 527.19,347.0 527.25,376.3 527.31,351.3 527.37,336.7 527.43,336.7 527.49,368.2 527.55,368.2 527.61,361.7 527.67,347.0 527.73,356.1 527.79,361.7 527.85,368.2 527.91,333.8 527.97,386.7 528.03,347.0 528.09,376.3 528.15,347.0 528.21,339.8 528.27,347.0 528.33,356.1 528.39,351.3 528.45,347.0 528.51,351.3 528.57,376.3 528.63,361.7 528.69,343.2 528.75,361.7 528.81,351.3 528.87,386.7 528.93,351.3 528.99,376.3 529.05,336.7 529.11,376.3 529.17,376.3 529.23,339.8 529.29,336.7 529.35,351.3 529.41,401.3 529.47,347.0 529.53,368.2 529.59,347.0 529.65,368.2 529.71,361.7 529.77,356.1 529.83,351.3 529.89,356.1 529.95,347.0 530.01,347.0 530.07,339.8 530.13,376.3 530.19,361.7 530.25,351.3 530.31,361.7 530.37,351.3 530.43,368.2 530.49,368.2 530.55,361.7 530.61,361.7 530.67,336.7 530.73,351.3 530.79,343.2 530.86,336.7 530.92,361.7 530.98,339.8 531.04,347.0 531.10,351.3 531.16,351.3 531.22,351.3 531.28,368.2 531.34,356.1 531.40,336.7 531.46,347.0 531.52,343.2 531.58,343.2 531.64,351.3 531.70,376.3 531.76,351.3 531.82,361.7 531.88,361.7 531.94,356.1 532.00,361.7 532.06,343.2 532.12,347.0 532.18,356.1 532.24,351.3 532.30,368.2 532.36,351.3 532.42,343.2 532.48,376.3 532.54,361.7 532.60,339.8 532.66,376.3 532.72,376.3 532.78,361.7 532.84,351.3 532.90,333.8 532.96,356.1 533.02,347.0 533.08,347.0 533.14,351.3 533.20,361.7 533.26,386.7 533.32,351.3 533.38,376.3 533.44,361.7 533.50,351.3 533.56,376.3 533.62,356.1 533.68,376.3 533.74,356.1 533.80,351.3 533.86,386.7 533.92,356.1 533.98,361.7 534.04,343.2 534.10,361.7 534.16,347.0 534.22,376.3 534.28,343.2 534.34,368.2 534.40,333.8 534.46,333.8 534.52,361.7 534.58,347.0 534.65,376.3 534.71,343.2 534.77,356.1 534.83,351.3 534.89,356.1 534.95,368.2 535.01,368.2 535.07,339.8 535.13,333.8 535.19,386.7 535.25,343.2 535.31,426.3 535.37,351.3 535.43,361.7 535.49,339.8 535.55,368.2 535.61,368.2 535.67,336.7 535.73,343.2 535.79,343.2 535.85,351.3 535.91,351.3 535.97,356.1 536.03,376.3 536.09,347.0 536.15,368.2 536.21,361.7 536.27,356.1 536.33,376.3 536.39,356.1 536.45,339.8 536.51,356.1 536.57,347.0 536.63,376.3 536.69,347.0 536.75,343.2 536.81,361.7 536.87,368.2 536.93,376.3 536.99,351.3 537.05,351.3 537.11,351.3 537.17,361.7 537.23,351.3 537.29,368.2 537.35,347.0 537.41,368.2 537.47,339.8 537.53,347.0 537.59,347.0 537.65,343.2 537.71,351.3 537.77,336.7 537.83,356.1 537.89,347.0 537.95,361.7 538.01,368.2 538.07,351.3 538.13,351.3 538.19,356.1 538.25,343.2 538.31,347.0 538.38,351.3 538.44,361.7 538.50,336.7 538.56,347.0 538.62,343.2 538.68,347.0 538.74,361.7 538.80,361.7 538.86,356.1 538.92,339.8 538.98,376.3 539.04,356.1 539.10,361.7 539.16,386.7 539.22,361.7 539.28,351.3 539.34,343.2 539.40,376.3 539.46,361.7 539.52,356.1 539.58,351.3 539.64,386.7 539.70,351.3 539.76,351.3 539.82,368.2 539.88,351.3 539.94,361.7 540.00,347.0 540.06,356.1 540.12,339.8 540.18,351.3 540.24,339.8 540.30,351.3 540.36,368.2 540.42,347.0 540.48,361.7 540.54,347.0 540.60,339.8 540.66,356.1 540.72,347.0 540.78,347.0 540.84,361.7 540.90,386.7 540.96,361.7 541.02,347.0 541.08,361.7 541.14,356.1 541.20,376.3 541.26,386.7 541.32,351.3 541.38,356.1 541.44,351.3 541.50,333.8 541.56,343.2 541.62,356.1 541.68,368.2 541.74,351.3 541.80,356.1 541.86,331.1 541.92,361.7 541.98,339.8 542.04,376.3 542.10,351.3 542.17,351.3 542.23,368.2 542.29,376.3 542.35,368.2 542.41,339.8 542.47,351.3 542.53,351.3 542.59,339.8 542.65,347.0 542.71,356.1 542.77,343.2 542.83,351.3 542.89,326.3 542.95,351.3 543.01,336.7 543.07,356.1 543.13,361.7 543.19,368.2 543.25,426.3 543.31,401.3 543.37,361.7 543.43,368.2 543.49,356.1 543.55,368.2 543.61,376.3 543.67,339.8 543.73,351.3 543.79,368.2 543.85,376.3 543.91,343.2 543.97,361.7 544.03,386.7 544.09,361.7 544.15,368.2 544.21,347.0 544.27,351.3 544.33,376.3 544.39,347.0 544.45,356.1 544.51,343.2 544.57,356.1 544.63,361.7 544.69,356.1 544.75,361.7 544.81,361.7 544.87,376.3 544.93,368.2 544.99,351.3 545.05,351.3 545.11,356.1 545.17,361.7 545.23,361.7 545.29,339.8 545.35,356.1 545.41,343.2 545.47,361.7 545.53,356.1 545.59,331.1 545.65,326.3 545.71,333.8 545.77,322.0 545.83,325.0 545.90,325.0 545.96,322.0 546.02,322.0 546.08,325.0 546.14,325.0 546.20,322.0 546.26,322.0 546.32,328.6 546.38,331.1 546.44,361.7 546.50,331.1 546.56,339.8 546.62,368.2 546.68,356.1 546.74,343.2 546.80,351.3 546.86,347.0 546.92,356.1 546.98,356.1 547.04,351.3 547.10,361.7 547.16,368.2 547.22,343.2 547.28,339.8 547.34,351.3 547.40,368.2 547.46,351.3 547.52,368.2 547.58,356.1 547.64,356.1 547.70,368.2 547.76,386.7 547.82,347.0 547.88,356.1 547.94,376.3 548.00,336.7 548.06,361.7 548.12,343.2 548.18,356.1 548.24,333.8 548.30,356.1 548.36,347.0 548.42,347.0 548.48,376.3 548.54,376.3 548.60,386.7 548.66,368.2 548.72,356.1 548.78,356.1 548.84,347.0 548.90,376.3 548.96,351.3 549.02,351.3 549.08,356.1 549.14,361.7 549.20,351.3 549.26,386.7 549.32,401.3 549.38,361.7 549.44,386.7 549.50,356.1 549.56,347.0 549.62,351.3 549.69,376.3 549.75,333.8 549.81,339.8 549.87,376.3 549.93,426.3 549.99,356.1 550.05,426.3 550.11,347.0 550.17,356.1 550.23,351.3 550.29,356.1 550.35,401.3 550.41,376.3 550.47,356.1 550.53,356.1 550.59,343.2 550.65,361.7 550.71,356.1 550.77,339.8 550.83,336.7 550.89,361.7 550.95,386.7 551.01,361.7 551.07,347.0 551.13,351.3 551.19,368.2 551.25,356.1 551.31,361.7 551.37,339.8 551.43,368.2 551.49,343.2 551.55,351.3 551.61,361.7 551.67,351.3 551.73,339.8 551.79,386.7 551.85,368.2 551.91,339.8 551.97,339.8 552.03,336.7 552.09,376.3 552.15,339.8 552.21,347.0 552.27,361.7 552.33,351.3 552.39,343.2 552.45,356.1 552.51,361.7 552.57,351.3 552.63,347.0 552.69,376.3 552.75,361.7 552.81,356.1 552.87,343.2 552.93,343.2 552.99,347.0 553.05,347.0 553.11,356.1 553.17,361.7 553.23,361.7 553.29,347.0 553.35,386.7 553.42,339.8 553.48,368.2 553.54,351.3 553.60,356.1 553.66,347.0 553.72,368.2 553.78,361.7 553.84,368.2 553.90,356.1 553.96,347.0 554.02,356.1 554.08,351.3 554.14,356.1 554.20,361.7 554.26,347.0 554.32,368.2 554.38,361.7 554.44,339.8 554.50,356.1 554.56,376.3 554.62,333.8 554.68,368.2 554.74,386.7 554.80,401.3 554.86,368.2 554.92,351.3 554.98,376.3 555.04,361.7 555.10,368.2 555.16,336.7 555.22,339.8 555.28,351.3 555.34,333.8 555.40,368.2 555.46,356.1 555.52,339.8 555.58,376.3 555.64,347.0 555.70,356.1 555.76,356.1 555.82,361.7 555.88,356.1 555.94,351.3 556.00,347.0 556.06,343.2 556.12,386.7 556.18,376.3 556.24,347.0 556.30,386.7 556.36,361.7 556.42,361.7 556.48,347.0 556.54,368.2 556.60,351.3 556.66,356.1 556.72,386.7 556.78,356.1 556.84,351.3 556.90,347.0 556.96,347.0 557.02,361.7 557.08,376.3 557.14,351.3 557.21,368.2 557.27,356.1 557.33,368.2 557.39,376.3 557.45,351.3 557.51,351.3 557.57,351.3 557.63,361.7 557.69,356.1 557.75,339.8 557.81,376.3 557.87,351.3 557.93,361.7 557.99,333.8 558.05,343.2 558.11,339.8 558.17,339.8 558.23,368.2 558.29,361.7 558.35,368.2 558.41,339.8 558.47,356.1 558.53,361.7 558.59,351.3 558.65,361.7 558.71,347.0 558.77,361.7 558.83,361.7 558.89,361.7 558.95,401.3 559.01,347.0 559.07,376.3 559.13,361.7 559.19,368.2 559.25,356.1 559.31,351.3 559.37,351.3 559.43,343.2 559.49,368.2 559.55,351.3 559.61,351.3 559.67,351.3 559.73,368.2 559.79,356.1 559.85,343.2 559.91,351.3 559.97,361.7 560.03,386.7 560.09,339.8 560.15,386.7 560.21,361.7 560.27,386.7 560.33,368.2 560.39,356.1 560.45,401.3 560.51,333.8 560.57,356.1 560.63,343.2 560.69,361.7 560.75,356.1 560.81,361.7 560.87,351.3 560.94,351.3 561.00,351.3 561.06,351.3 561.12,343.2 561.18,361.7 561.24,368.2 561.30,351.3 561.36,339.8 561.42,386.7 561.48,368.2 561.54,343.2 561.60,343.2 561.66,386.7 561.72,386.7 561.78,356.1 561.84,376.3 561.90,351.3 561.96,339.8 562.02,368.2 562.08,361.7 562.14,343.2 562.20,356.1 562.26,351.3 562.32,386.7 562.38,386.7 562.44,339.8 562.50,356.1 562.56,351.3 562.62,376.3 562.68,356.1 562.74,368.2 562.80,368.2 562.86,339.8 562.92,351.3 562.98,351.3 563.04,343.2 563.10,351.3 563.16,351.3 563.22,356.1 563.28,361.7 563.34,351.3 563.40,376.3 563.46,361.7 563.52,356.1 563.58,356.1 563.64,351.3 563.70,351.3 563.76,333.8 563.82,356.1 563.88,361.7 563.94,356.1 564.00,361.7 564.06,351.3 564.12,356.1 564.18,368.2 564.24,343.2 564.30,361.7 564.36,356.1 564.42,347.0 564.48,356.1 564.54,361.7 564.60,368.2 564.66,361.7 564.73,361.7 564.79,368.2 564.85,376.3 564.91,343.2 564.97,351.3 565.03,339.8 565.09,426.3 565.15,361.7 565.21,386.7 565.27,356.1 565.33,376.3 565.39,368.2 565.45,356.1 565.51,376.3 565.57,376.3 565.63,356.1 565.69,356.1 565.75,356.1 565.81,356.1 565.87,376.3 565.93,356.1 565.99,368.2 566.05,401.3 566.11,347.0 566.17,386.7 566.23,339.8 566.29,347.0 566.35,368.2 566.41,361.7 566.47,386.7 566.53,376.3 566.59,386.7 566.65,351.3 566.71,336.7 566.77,386.7 566.83,347.0 566.89,347.0 566.95,356.1 567.01,361.7 567.07,361.7 567.13,336.7 567.19,368.2 567.25,356.1 567.31,351.3 567.37,376.3 567.43,347.0 567.49,351.3 567.55,361.7 567.61,356.1 567.67,361.7 567.73,339.8 567.79,368.2 567.85,343.2 567.91,347.0 567.97,386.7 568.03,386.7 568.09,328.6 568.15,356.1 568.21,331.1 568.27,343.2 568.33,368.2 568.39,336.7 568.46,343.2 568.52,361.7 568.58,368.2 568.64,356.1 568.70,368.2 568.76,347.0 568.82,376.3 568.88,343.2 568.94,386.7 569.00,351.3 569.06,356.1 569.12,351.3 569.18,347.0 569.24,368.2 569.30,356.1 569.36,343.2 569.42,343.2 569.48,376.3 569.54,347.0 569.60,339.8 569.66,376.3 569.72,361.7 569.78,361.7 569.84,336.7 569.90,347.0 569.96,368.2 570.02,356.1 570.08,351.3 570.14,347.0 570.20,343.2 570.26,361.7 570.32,356.1 570.38,343.2 570.44,376.3 570.50,356.1 570.56,401.3 570.62,386.7 570.68,356.1 570.74,336.7 570.80,401.3 570.86,343.2 570.92,368.2 570.98,356.1 571.04,351.3 571.10,368.2 571.16,351.3 571.22,386.7 571.28,347.0 571.34,356.1 571.40,347.0 571.46,368.2 571.52,361.7 571.58,351.3 571.64,343.2 571.70,426.3 571.76,351.3 571.82,347.0 571.88,361.7 571.94,376.3 572.00,328.6 572.06,401.3 572.12,426.3 572.18,336.7 572.25,351.3 572.31,426.3 572.37,328.6 572.43,347.0 572.49,386.7 572.55,361.7 572.61,347.0 572.67,339.8 572.73,351.3 572.79,386.7 572.85,368.2 572.91,343.2 572.97,347.0 573.03,351.3 573.09,368.2 573.15,361.7 573.21,336.7 573.27,336.7 573.33,343.2 573.39,361.7 573.45,356.1 573.51,339.8 573.57,361.7 573.63,401.3 573.69,356.1 573.75,343.2 573.81,376.3 573.87,343.2 573.93,376.3 573.99,356.1 574.05,351.3 574.11,347.0 574.17,361.7 574.23,376.3 574.29,386.7 574.35,368.2 574.41,376.3 574.47,376.3 574.53,356.1 574.59,368.2 574.65,361.7 574.71,376.3 574.77,376.3 574.83,347.0 574.89,351.3 574.95,336.7 575.01,376.3 575.07,376.3 575.13,368.2 575.19,368.2 575.25,368.2 575.31,401.3 575.37,401.3 575.43,356.1 575.49,347.0 575.55,361.7 575.61,343.2 575.67,386.7 575.73,343.2 575.79,361.7 575.85,339.8 575.91,386.7 575.98,361.7 576.04,368.2 576.10,361.7 576.16,347.0 576.22,351.3 576.28,376.3 576.34,328.6 576.40,361.7 576.46,368.2 576.52,368.2 576.58,386.7 576.64,336.7 576.70,331.1 576.76,339.8 576.82,351.3 576.88,339.8 576.94,386.7 577.00,361.7 577.06,376.3 577.12,343.2 577.18,343.2 577.24,361.7 577.30,339.8 577.36,356.1 577.42,368.2 577.48,368.2 577.54,356.1 577.60,351.3 577.66,351.3 577.72,351.3 577.78,343.2 577.84,356.1 577.90,386.7 577.96,386.7 578.02,351.3 578.08,351.3 578.14,351.3 578.20,347.0 578.26,361.7 578.32,351.3 578.38,351.3 578.44,361.7 578.50,351.3 578.56,356.1 578.62,351.3 578.68,361.7 578.74,333.8 578.80,351.3 578.86,320.1 578.92,347.0 578.98,320.1 579.04,322.0 579.10,320.1 579.16,310.2 579.22,308.8 579.28,307.4 579.34,300.0 579.40,298.0 579.46,297.0 579.52,297.0 579.58,297.0 579.64,297.0 579.70,297.0 579.77,322.0 579.83,310.2 579.89,324.1 579.95,306.1 580.01,322.0 580.07,333.8 580.13,326.3 580.19,356.1 580.25,318.2 580.31,368.2 580.37,339.8 580.43,351.3 580.49,356.1 580.55,386.7 580.61,347.0 580.67,376.3 580.73,386.7 580.79,356.1 580.85,361.7 580.91,376.3 580.97,401.3 581.03,339.8 581.09,336.7 581.15,347.0 581.21,376.3 581.27,343.2 581.33,356.1 581.39,351.3 581.45,351.3 581.51,361.7 581.57,343.2 581.63,368.2 581.69,376.3 581.75,401.3 581.81,368.2 581.87,343.2 581.93,356.1 581.99,356.1 582.05,339.8 582.11,347.0 582.17,376.3 582.23,356.1 582.29,351.3 582.35,347.0 582.41,326.3 582.47,368.2 582.53,343.2 582.59,351.3 582.65,368.2 582.71,401.3 582.77,343.2 582.83,351.3 582.89,361.7 582.95,356.1 583.01,361.7 583.07,343.2 583.13,376.3 583.19,347.0 583.25,376.3 583.31,361.7 583.37,361.7 583.43,386.7 583.50,361.7 583.56,356.1 583.62,376.3 583.68,351.3 583.74,376.3 583.80,351.3 583.86,401.3 583.92,343.2 583.98,361.7 584.04,351.3 584.10,426.3 584.16,351.3 584.22,356.1 584.28,401.3 584.34,331.1 584.40,361.7 584.46,361.7 584.52,401.3 584.58,386.7 584.64,376.3 584.70,347.0 584.76,356.1 584.82,368.2 584.88,368.2 584.94,356.1 585.00,339.8 585.06,368.2 585.12,376.3 585.18,361.7 585.24,347.0 585.30,386.7 585.36,343.2 585.42,351.3 585.48,351.3 585.54,356.1 585.60,386.7 585.66,376.3 585.72,368.2 585.78,356.1 585.84,386.7 585.90,361.7 585.96,386.7 586.02,386.7 586.08,368.2 586.14,361.7 586.20,368.2 586.26,356.1 586.32,361.7 586.38,368.2 586.44,336.7 586.50,356.1 586.56,339.8 586.62,343.2 586.68,376.3 586.74,339.8 586.80,336.7 586.86,376.3 586.92,351.3 586.98,356.1 587.04,401.3 587.10,343.2 587.16,386.7 587.22,386.7 587.29,351.3 587.35,376.3 587.41,347.0 587.47,356.1 587.53,368.2 587.59,356.1 587.65,361.7 587.71,351.3 587.77,336.7 587.83,336.7 587.89,376.3 587.95,376.3 588.01,368.2 588.07,351.3 588.13,351.3 588.19,336.7 588.25,343.2 588.31,351.3 588.37,361.7 588.43,356.1 588.49,356.1 588.55,347.0 588.61,386.7 588.67,343.2 588.73,376.3 588.79,351.3 588.85,333.8 588.91,343.2 588.97,351.3 589.03,361.7 589.09,361.7 589.15,368.2 589.21,356.1 589.27,343.2 589.33,339.8 589.39,339.8 589.45,376.3 589.51,347.0 589.57,347.0 589.63,361.7 589.69,356.1 589.75,356.1 589.81,339.8 589.87,356.1 589.93,333.8 589.99,356.1 590.05,426.3 590.11,368.2 590.17,368.2 590.23,351.3 590.29,356.1 590.35,356.1 590.41,339.8 590.47,368.2 590.53,356.1 590.59,356.1 590.65,368.2 590.71,347.0 590.77,356.1 590.83,368.2 590.89,343.2 590.95,347.0 591.02,376.3 591.08,361.7 591.14,343.2 591.20,386.7 591.26,361.7 591.32,361.7 591.38,351.3 591.44,320.1 591.50,356.1 591.56,347.0 591.62,328.6 591.68,333.8 591.74,313.2 591.80,304.8 591.86,316.5 591.92,311.7 591.98,297.0 592.04,295.1 592.10,287.5 592.16,287.5 592.22,284.5 592.28,284.5 592.34,287.5 592.40,287.5 592.46,284.5 592.52,289.8 592.58,290.6 592.64,301.3 592.70,298.0 592.76,318.2 592.82,304.8 592.88,322.0 592.94,328.6 593.00,324.1 593.06,336.7 593.12,361.7 593.18,336.7 593.24,343.2 593.30,356.1 593.36,343.2 593.42,347.0 593.48,351.3 593.54,376.3 593.60,356.1 593.66,361.7 593.72,356.1 593.78,356.1 593.84,347.0 593.90,356.1 593.96,356.1 594.02,401.3 594.08,347.0 594.14,361.7 594.20,361.7 594.26,376.3 594.32,336.7 594.38,376.3 594.44,347.0 594.50,361.7 594.56,356.1 594.62,347.0 594.68,347.0 594.74,356.1 594.81,339.8 594.87,343.2 594.93,361.7 594.99,324.1 595.05,328.6 595.11,325.0 595.17,322.0 595.23,325.0 595.29,322.0 595.35,322.0 595.41,325.0 595.47,322.0 595.53,326.3 595.59,336.7 595.65,333.8 595.71,333.8 595.77,339.8 595.83,347.0 595.89,361.7 595.95,347.0 596.01,336.7 596.07,356.1 596.13,361.7 596.19,347.0 596.25,351.3 596.31,376.3 596.37,361.7 596.43,368.2 596.49,386.7 596.55,376.3 596.61,376.3 596.67,361.7 596.73,376.3 596.79,336.7 596.85,351.3 596.91,356.1 596.97,356.1 597.03,386.7 597.09,368.2 597.15,331.1 597.21,339.8 597.27,343.2 597.33,333.8 597.39,343.2 597.45,361.7 597.51,356.1 597.57,361.7 597.63,356.1 597.69,343.2 597.75,376.3 597.81,386.7 597.87,361.7 597.93,356.1 597.99,368.2 598.05,351.3 598.11,361.7 598.17,386.7 598.23,356.1 598.29,361.7 598.35,368.2 598.41,356.1 598.47,351.3 598.54,343.2 598.60,368.2 598.66,347.0 598.72,361.7 598.78,333.8 598.84,347.0 598.90,351.3 598.96,361.7 599.02,376.3 599.08,368.2 599.14,356.1 599.20,356.1 599.26,361.7 599.32,376.3 599.38,351.3 599.44,368.2 599.50,401.3 599.56,356.1 599.62,368.2 599.68,347.0 599.74,368.2 599.80,351.3 599.86,361.7 599.92,351.3 599.98,356.1 600.04,351.3 600.10,368.2 600.16,351.3 600.22,361.7 600.28,361.7 600.34,356.1 600.40,376.3 600.46,356.1 600.52,347.0 600.58,336.7 600.64,356.1 600.70,361.7 600.76,376.3 600.82,351.3 600.88,376.3 600.94,343.2 601.00,351.3 601.06,361.7 601.12,368.2 601.18,356.1 601.24,356.1 601.30,368.2 601.36,376.3 601.42,356.1 601.48,343.2 601.54,386.7 601.60,376.3 601.66,368.2 601.72,376.3 601.78,368.2 601.84,376.3 601.90,339.8 601.96,351.3 602.02,376.3 602.08,356.1 602.14,343.2 602.20,351.3 602.26,361.7 602.33,356.1 602.39,361.7 602.45,347.0 602.51,368.2 602.57,386.7 602.63,361.7 602.69,343.2 602.75,339.8 602.81,351.3 602.87,356.1 602.93,386.7 602.99,426.3 603.05,356.1 603.11,361.7 603.17,361.7 603.23,356.1 603.29,376.3 603.35,351.3 603.41,376.3 603.47,361.7 603.53,347.0 603.59,361.7 603.65,361.7 603.71,361.7 603.77,347.0 603.83,351.3 603.89,351.3 603.95,356.1 604.01,361.7 604.07,426.3 604.13,351.3 604.19,368.2 604.25,347.0 604.31,361.7 604.37,376.3 604.43,368.2 604.49,376.3 604.55,376.3 604.61,336.7 604.67,386.7 604.73,351.3 604.79,343.2 604.85,386.7 604.91,351.3 604.97,361.7 605.03,368.2 605.09,343.2 605.15,376.3 605.21,361.7 605.27,368.2 605.33,386.7 605.39,386.7 605.45,356.1 605.51,351.3 605.57,376.3 605.63,376.3 605.69,351.3 605.75,351.3 605.81,351.3 605.87,347.0 605.93,336.7 605.99,426.3 606.06,361.7 606.12,351.3 606.18,376.3 606.24,368.2 606.30,356.1 606.36,343.2 606.42,347.0 606.48,343.2 606.54,356.1 606.60,333.8 606.66,361.7 606.72,376.3 606.78,401.3 606.84,356.1 606.90,368.2 606.96,343.2 607.02,351.3 607.08,347.0 607.14,356.1 607.20,368.2 607.26,368.2 607.32,347.0 607.38,347.0 607.44,347.0 607.50,401.3 607.56,361.7 607.62,401.3 607.68,356.1 607.74,351.3 607.80,336.7 607.86,351.3 607.92,368.2 607.98,361.7 608.04,343.2 608.10,376.3 608.16,351.3 608.22,343.2 608.28,361.7 608.34,361.7 608.40,333.8 608.46,351.3 608.52,361.7 608.58,376.3 608.64,376.3 608.70,347.0 608.76,376.3 608.82,351.3 608.88,426.3 608.94,386.7 609.00,386.7 609.06,351.3 609.12,401.3 609.18,386.7 609.24,336.7 609.30,343.2 609.36,361.7 609.42,351.3 609.48,361.7 609.54,356.1 609.60,351.3 609.66,376.3 609.72,376.3 609.78,343.2 609.85,386.7 609.91,351.3 609.97,376.3 610.03,368.2 610.09,376.3 610.15,361.7 610.21,368.2 610.27,386.7 610.33,351.3 610.39,343.2 610.45,356.1 610.51,347.0 610.57,351.3 610.63,361.7 610.69,426.3 610.75,343.2 610.81,368.2 610.87,368.2 610.93,336.7 610.99,386.7 611.05,351.3 611.11,339.8 611.17,368.2 611.23,361.7 611.29,368.2 611.35,356.1 611.41,356.1 611.47,339.8 611.53,368.2 611.59,347.0 611.65,356.1 611.71,361.7 611.77,401.3 611.83,386.7 611.89,376.3 611.95,376.3 612.01,356.1 612.07,368.2 612.13,351.3 612.19,361.7 612.25,356.1 612.31,361.7 612.37,343.2 612.43,368.2 612.49,351.3 612.55,376.3 612.61,368.2 612.67,401.3 612.73,368.2 612.79,356.1 612.85,356.1 612.91,336.7 612.97,368.2 613.03,426.3 613.09,368.2 613.15,343.2 613.21,347.0 613.27,386.7 613.33,401.3 613.39,361.7 613.45,401.3 613.51,386.7 613.58,356.1 613.64,347.0 613.70,351.3 613.76,376.3 613.82,347.0 613.88,361.7 613.94,343.2 614.00,356.1 614.06,361.7 614.12,339.8 614.18,361.7 614.24,368.2 614.30,376.3 614.36,376.3 614.42,347.0 614.48,386.7 614.54,336.7 614.60,361.7 614.66,356.1 614.72,368.2 614.78,361.7 614.84,376.3 614.90,376.3 614.96,339.8 615.02,351.3 615.08,376.3 615.14,347.0 615.20,361.7 615.26,368.2 615.32,343.2 615.38,339.8 615.44,347.0 615.50,361.7 615.56,339.8 615.62,401.3 615.68,347.0 615.74,361.7 615.80,386.7 615.86,368.2 615.92,351.3 615.98,368.2 616.04,347.0 616.10,368.2 616.16,361.7 616.22,361.7 616.28,356.1 616.34,376.3 616.40,356.1 616.46,368.2 616.52,356.1 616.58,386.7 616.64,361.7 616.70,343.2 616.76,386.7 616.82,361.7 616.88,361.7 616.94,386.7 617.00,368.2 617.06,361.7 617.12,356.1 617.18,376.3 617.24,347.0 617.30,347.0 617.37,356.1 617.43,368.2 617.49,356.1 617.55,356.1 617.61,376.3 617.67,368.2 617.73,361.7 617.79,386.7 617.85,368.2 617.91,386.7 617.97,343.2 618.03,361.7 618.09,386.7 618.15,347.0 618.21,368.2 618.27,368.2 618.33,368.2 618.39,401.3 618.45,386.7 618.51,347.0 618.57,336.7 618.63,333.8 618.69,386.7 618.75,347.0 618.81,356.1 618.87,361.7 618.93,368.2 618.99,343.2 619.05,356.1 619.11,361.7 619.17,336.7 619.23,351.3 619.29,361.7 619.35,361.7 619.41,347.0 619.47,386.7 619.53,368.2 619.59,368.2 619.65,368.2 619.71,361.7 619.77,351.3 619.83,347.0 619.89,361.7 619.95,356.1 620.01,368.2 620.07,356.1 620.13,356.1 620.19,356.1 620.25,376.3 620.31,361.7 620.37,368.2 620.43,376.3 620.49,356.1 620.55,368.2 620.61,356.1 620.67,361.7 620.73,376.3 620.79,356.1 620.85,361.7 620.91,368.2 620.97,339.8 621.03,376.3 621.10,376.3 621.16,347.0 621.22,351.3 621.28,347.0 621.34,356.1 621.40,368.2 621.46,368.2 621.52,361.7 621.58,351.3 621.64,401.3 621.70,376.3 621.76,351.3 621.82,361.7 621.88,368.2 621.94,361.7 622.00,386.7 622.06,368.2 622.12,376.3 622.18,361.7 622.24,376.3 622.30,347.0 622.36,376.3 622.42,347.0 622.48,376.3 622.54,356.1 622.60,356.1 622.66,347.0 622.72,356.1 622.78,361.7 622.84,368.2 622.90,351.3 622.96,376.3 623.02,386.7 623.08,368.2 623.14,401.3 623.20,351.3 623.26,401.3 623.32,361.7 623.38,368.2 623.44,356.1 623.50,376.3 623.56,356.1 623.62,351.3 623.68,361.7 623.74,361.7 623.80,333.8 623.86,356.1 623.92,376.3 623.98,351.3 624.04,361.7 624.10,347.0 624.16,351.3 624.22,361.7 624.28,386.7 624.34,386.7 624.40,361.7 624.46,376.3 624.52,347.0 624.58,361.7 624.64,368.2 624.70,376.3 624.76,376.3 624.82,351.3 624.89,361.7 624.95,361.7 625.01,347.0 625.07,343.2 625.13,368.2 625.19,351.3 625.25,376.3 625.31,401.3 625.37,368.2 625.43,339.8 625.49,361.7 625.55,386.7 625.61,351.3 625.67,368.2 625.73,376.3 625.79,361.7 625.85,376.3 625.91,343.2 625.97,351.3 626.03,347.0 626.09,361.7 626.15,351.3 626.21,376.3 626.27,401.3 626.33,361.7 626.39,386.7 626.45,356.1 626.51,401.3 626.57,356.1 626.63,347.0 626.69,347.0 626.75,351.3 626.81,376.3 626.87,356.1 626.93,376.3 626.99,368.2 627.05,361.7 627.11,361.7 627.17,361.7 627.23,361.7 627.29,351.3 627.35,347.0 627.41,339.8 627.47,351.3 627.53,336.7 627.59,356.1 627.65,356.1 627.71,351.3 627.77,356.1 627.83,351.3 627.89,376.3 627.95,401.3 628.01,347.0 628.07,401.3 628.13,368.2 628.19,356.1 628.25,361.7 628.31,361.7 628.37,336.7 628.43,339.8 628.49,351.3 628.55,356.1 628.62,361.7 628.68,356.1 628.74,386.7 628.80,343.2 628.86,376.3 628.92,426.3 628.98,401.3 629.04,351.3 629.10,351.3 629.16,361.7 629.22,361.7 629.28,339.8 629.34,401.3 629.40,361.7 629.46,356.1 629.52,368.2 629.58,386.7 629.64,368.2 629.70,347.0 629.76,343.2 629.82,376.3 629.88,361.7 629.94,386.7 630.00,401.3 630.06,351.3 630.12,356.1 630.18,376.3 630.24,356.1 630.30,356.1 630.36,361.7 630.42,376.3 630.48,356.1 630.54,351.3 630.60,347.0 630.66,356.1 630.72,376.3 630.78,356.1 630.84,368.2 630.90,356.1 630.96,361.7 631.02,351.3 631.08,351.3 631.14,401.3 631.20,356.1 631.26,361.7 631.32,361.7 631.38,368.2 631.44,351.3 631.50,386.7 631.56,333.8 631.62,356.1 631.68,368.2 631.74,356.1 631.80,368.2 631.86,368.2 631.92,376.3 631.98,351.3 632.04,351.3 632.10,361.7 632.16,376.3 632.22,351.3 632.28,368.2 632.34,386.7 632.41,386.7 632.47,356.1 632.53,361.7 632.59,368.2 632.65,376.3 632.71,361.7 632.77,368.2 632.83,361.7 632.89,361.7 632.95,361.7 633.01,368.2 633.07,361.7 633.13,339.8 633.19,376.3 633.25,401.3 633.31,361.7 633.37,361.7 633.43,356.1 633.49,351.3 633.55,339.8 633.61,351.3 633.67,368.2 633.73,368.2 633.79,368.2 633.85,361.7 633.91,351.3 633.97,376.3 634.03,336.7 634.09,356.1 634.15,361.7 634.21,343.2 634.27,368.2 634.33,401.3 634.39,361.7 634.45,356.1 634.51,368.2 634.57,376.3 634.63,347.0 634.69,376.3 634.75,401.3 634.81,356.1 634.87,356.1 634.93,401.3 634.99,361.7 635.05,368.2 635.11,356.1 635.17,376.3 635.23,376.3 635.29,356.1 635.35,361.7 635.41,351.3 635.47,368.2 635.53,351.3 635.59,361.7 635.65,347.0 635.71,356.1 635.77,401.3 635.83,376.3 635.89,351.3 635.95,356.1 636.01,339.8 636.07,368.2 636.14,343.2 636.20,376.3 636.26,376.3 636.32,368.2 636.38,351.3 636.44,343.2 636.50,386.7 636.56,356.1 636.62,356.1 636.68,351.3 636.74,368.2 636.80,361.7 636.86,368.2 636.92,347.0 636.98,351.3 637.04,361.7 637.10,401.3 637.16,368.2 637.22,401.3 637.28,361.7 637.34,401.3 637.40,386.7 637.46,361.7 637.52,356.1 637.58,361.7 637.64,356.1 637.70,347.0 637.76,401.3 637.82,376.3 637.88,356.1 637.94,368.2 638.00,351.3 638.06,351.3 638.12,368.2 638.18,368.2 638.24,376.3 638.30,376.3 638.36,347.0 638.42,376.3 638.48,347.0 638.54,347.0 638.60,368.2 638.66,361.7 638.72,401.3 638.78,361.7 638.84,368.2 638.90,361.7 638.96,356.1 639.02,356.1 639.08,361.7 639.14,386.7 639.20,376.3 639.26,386.7 639.32,351.3 639.38,368.2 639.44,361.7 639.50,356.1 639.56,351.3 639.62,376.3 639.68,356.1 639.74,361.7 639.80,376.3 639.86,351.3 639.93,343.2 639.99,386.7 640.05,386.7 640.11,351.3 640.17,361.7 640.23,368.2 640.29,368.2 640.35,347.0 640.41,376.3 640.47,343.2 640.53,351.3 640.59,368.2 640.65,361.7 640.71,336.7 640.77,351.3 640.83,356.1 640.89,343.2 640.95,351.3 641.01,351.3 641.07,386.7 641.13,347.0 641.19,347.0 641.25,351.3 641.31,356.1 641.37,376.3 641.43,347.0 641.49,376.3 641.55,376.3 641.61,376.3 641.67,361.7 641.73,368.2 641.79,361.7 641.85,376.3 641.91,376.3 641.97,351.3 642.03,351.3 642.09,361.7 642.15,376.3 642.21,339.8 642.27,351.3 642.33,351.3 642.39,343.2 642.45,351.3 642.51,356.1 642.57,351.3 642.63,386.7 642.69,368.2 642.75,361.7 642.81,343.2 642.87,361.7 642.93,376.3 642.99,356.1 643.05,356.1 643.11,376.3 643.17,386.7 643.23,376.3 643.29,376.3 643.35,331.1 643.41,368.2 643.47,361.7 643.53,368.2 643.59,361.7 643.66,386.7 643.72,356.1 643.78,361.7 643.84,361.7 643.90,361.7 643.96,361.7 644.02,351.3 644.08,386.7 644.14,361.7 644.20,347.0 644.26,376.3 644.32,356.1 644.38,336.7 644.44,347.0 644.50,339.8 644.56,347.0 644.62,361.7 644.68,376.3 644.74,356.1 644.80,376.3 644.86,351.3 644.92,361.7 644.98,376.3 645.04,401.3 645.10,347.0 645.16,351.3 645.22,368.2 645.28,361.7 645.34,356.1 645.40,361.7 645.46,356.1 645.52,401.3 645.58,356.1 645.64,361.7 645.70,361.7 645.76,336.7 645.82,368.2 645.88,368.2 645.94,339.8 646.00,386.7 646.06,361.7 646.12,401.3 646.18,361.7 646.24,333.8 646.30,356.1 646.36,368.2 646.42,386.7 646.48,386.7 646.54,356.1 646.60,343.2 646.66,368.2 646.72,361.7 646.78,347.0 646.84,343.2 646.90,343.2 646.96,376.3 647.02,356.1 647.08,361.7 647.14,368.2 647.20,361.7 647.26,376.3 647.32,351.3 647.38,351.3 647.45,426.3 647.51,351.3 647.57,368.2 647.63,401.3 647.69,339.8 647.75,368.2 647.81,376.3 647.87,368.2 647.93,361.7 647.99,356.1 648.05,401.3 648.11,361.7 648.17,368.2 648.23,347.0 648.29,368.2 648.35,356.1 648.41,343.2 648.47,376.3 648.53,361.7 648.59,386.7 648.65,426.3 648.71,361.7 648.77,361.7 648.83,376.3 648.89,347.0 648.95,361.7 649.01,361.7 649.07,361.7 649.13,376.3 649.19,368.2 649.25,351.3 649.31,361.7 649.37,343.2 649.43,339.8 649.49,347.0 649.55,426.3 649.61,356.1 649.67,347.0 649.73,401.3 649.79,339.8 649.85,401.3 649.91,361.7 649.97,376.3 650.03,386.7 650.09,343.2 650.15,368.2 650.21,356.1 650.27,386.7 650.33,368.2 650.39,368.2 650.45,339.8 650.51,368.2 650.57,376.3 650.63,386.7 650.69,361.7 650.75,356.1 650.81,356.1 650.87,347.0 650.93,361.7 650.99,361.7 651.05,351.3 651.11,356.1 651.18,401.3 651.24,376.3 651.30,386.7 651.36,343.2 651.42,351.3 651.48,368.2 651.54,356.1 651.60,356.1 651.66,368.2 651.72,343.2 651.78,368.2 651.84,376.3 651.90,376.3 651.96,361.7 652.02,347.0 652.08,368.2 652.14,361.7 652.20,401.3 652.26,426.3 652.32,368.2 652.38,368.2 652.44,361.7 652.50,347.0 652.56,376.3 652.62,361.7 652.68,361.7 652.74,386.7 652.80,351.3 652.86,356.1 652.92,351.3 652.98,386.7 653.04,361.7 653.10,376.3 653.16,368.2 653.22,368.2 653.28,361.7 653.34,426.3 653.40,351.3 653.46,356.1 653.52,368.2 653.58,347.0 653.64,368.2 653.70,361.7 653.76,368.2 653.82,368.2 653.88,386.7 653.94,361.7 654.00,426.3 654.06,386.7 654.12,351.3 654.18,336.7 654.24,386.7 654.30,368.2 654.36,368.2 654.42,361.7 654.48,401.3 654.54,356.1 654.60,356.1 654.66,368.2 654.72,351.3 654.78,356.1 654.84,351.3 654.90,376.3 654.97,376.3 655.03,386.7 655.09,376.3 655.15,351.3 655.21,376.3 655.27,361.7 655.33,401.3 655.39,361.7 655.45,368.2 655.51,376.3 655.57,356.1 655.63,386.7 655.69,376.3 655.75,376.3 655.81,356.1 655.87,386.7 655.93,376.3 655.99,376.3 656.05,368.2 656.11,361.7 656.17,361.7 656.23,356.1 656.29,356.1 656.35,376.3 656.41,386.7 656.47,426.3 656.53,361.7 656.59,368.2 656.65,368.2 656.71,376.3 656.77,376.3 656.83,368.2 656.89,376.3 656.95,343.2 657.01,376.3 657.07,368.2 657.13,376.3 657.19,386.7 657.25,361.7 657.31,426.3 657.37,368.2 657.43,368.2 657.49,401.3 657.55,376.3 657.61,361.7 657.67,361.7 657.73,401.3 657.79,386.7 657.85,401.3 657.91,368.2 657.97,368.2 658.03,376.3 658.09,361.7 658.15,368.2 658.21,368.2 658.27,356.1 658.33,356.1 658.39,426.3 658.45,376.3 658.51,368.2 658.57,368.2 658.63,361.7 658.70,386.7 658.76,426.3 658.82,356.1 658.88,368.2 658.94,347.0 659.00,376.3 659.06,426.3 659.12,368.2 659.18,368.2 659.24,386.7 659.30,361.7 659.36,356.1 659.42,401.3 659.48,368.2 659.54,376.3 659.60,376.3 659.66,361.7 659.72,368.2 659.78,376.3 659.84,386.7 659.90,401.3 659.96,376.3 660.02,376.3 660.08,386.7 660.14,401.3 660.20,368.2 660.26,356.1 660.32,401.3 660.38,386.7 660.44,376.3 660.50,376.3 660.56,386.7 660.62,426.3 660.68,386.7 660.74,401.3 660.80,368.2 660.86,361.7 660.92,376.3 660.98,376.3 661.04,356.1 661.10,386.7 661.16,376.3 661.22,426.3 661.28,368.2 661.34,376.3 661.40,368.2 661.46,426.3 661.52,368.2 661.58,368.2 661.64,361.7 661.70,386.7 661.76,376.3 661.82,401.3 661.88,426.3 661.94,351.3 662.00,376.3 662.06,401.3 662.12,386.7 662.18,368.2 662.24,426.3 662.30,386.7 662.36,368.2 662.42,361.7 662.49,386.7 662.55,376.3 662.61,361.7 662.67,368.2 662.73,401.3 662.79,361.7 662.85,386.7 662.91,351.3 662.97,426.3 663.03,368.2 663.09,376.3 663.15,376.3 663.21,386.7 663.27,376.3 663.33,368.2 663.39,361.7 663.45,401.3 663.51,356.1 663.57,386.7 663.63,386.7 663.69,401.3 663.75,401.3 663.81,386.7 663.87,361.7 663.93,386.7 663.99,401.3 664.05,386.7 664.11,361.7 664.17,386.7 664.23,368.2 664.29,426.3 664.35,368.2 664.41,401.3 664.47,401.3 664.53,386.7 664.59,426.3 664.65,368.2 664.71,401.3 664.77,376.3 664.83,426.3 664.89,386.7 664.95,386.7 665.01,386.7 665.07,376.3 665.13,376.3 665.19,361.7 665.25,426.3 665.31,361.7 665.37,401.3 665.43,426.3 665.49,368.2 665.55,376.3 665.61,386.7 665.67,386.7 665.73,401.3 665.79,401.3 665.85,368.2 665.91,426.3 665.97,386.7 666.03,376.3 666.09,361.7 666.15,368.2 666.22,426.3 666.28,386.7 666.34,376.3 666.40,426.3"/></g>
<path d="M74.0 11.0 H666.4" stroke="#222" stroke-width="1.6" fill="none"/>
<path d="M666.4 11.0 V432.8" stroke="#333" stroke-width="1.1" fill="none"/>
<path d="M67.8 11.0 H74.0 M74.0 11.0 V426.3 M67.8 426.3 H666.4" stroke="#222" stroke-width="1.5" fill="none"/>
<path d="M67.8 426.30H74 M70.2 401.30H74 M70.2 386.67H74 M70.2 376.29H74 M70.2 368.24H74 M70.2 361.67H74 M70.2 356.11H74 M70.2 351.29H74 M70.2 347.04H74 M67.8 343.24H74 M70.2 318.24H74 M70.2 303.61H74 M70.2 293.23H74 M70.2 285.18H74 M70.2 278.61H74 M70.2 273.05H74 M70.2 268.23H74 M70.2 263.98H74 M67.8 260.18H74 M70.2 235.18H74 M70.2 220.55H74 M70.2 210.17H74 M70.2 202.12H74 M70.2 195.55H74 M70.2 189.99H74 M70.2 185.17H74 M70.2 180.92H74 M67.8 177.12H74 M70.2 152.12H74 M70.2 137.49H74 M70.2 127.11H74 M70.2 119.06H74 M70.2 112.49H74 M70.2 106.93H74 M70.2 102.11H74 M70.2 97.86H74 M67.8 94.06H74 M70.2 69.06H74 M70.2 54.43H74 M70.2 44.05H74 M70.2 36.00H74 M70.2 29.43H74 M70.2 23.87H74 M70.2 19.05H74 M70.2 14.80H74 M67.8 11.00H74" stroke="#333" stroke-width="1.1" fill="none"/>
<path d="M140.00 426.30V432.8 M215.20 426.30V432.8 M290.40 426.30V432.8 M365.60 426.30V432.8 M440.80 426.30V432.8 M516.00 426.30V432.8 M591.20 426.30V432.8 M666.40 426.30V432.8" stroke="#333" stroke-width="1.1" fill="none"/>
<text x="53.3" y="431.8" font-size="16" text-anchor="end">10</text>
<text x="54.0" y="426.6" font-size="10">0</text>
<text x="53.3" y="348.7" font-size="16" text-anchor="end">10</text>
<text x="54.0" y="343.5" font-size="10">1</text>
<text x="53.3" y="265.7" font-size="16" text-anchor="end">10</text>
<text x="54.0" y="260.5" font-size="10">2</text>
<text x="53.3" y="182.6" font-size="16" text-anchor="end">10</text>
<text x="54.0" y="177.4" font-size="10">3</text>
<text x="53.3" y="99.6" font-size="16" text-anchor="end">10</text>
<text x="54.0" y="94.4" font-size="10">4</text>
<text x="53.3" y="16.5" font-size="16" text-anchor="end">10</text>
<text x="54.0" y="11.3" font-size="10">5</text>
<text x="140.00" y="454.9" font-size="16" text-anchor="middle">250</text>
<text x="215.20" y="454.9" font-size="16" text-anchor="middle">500</text>
<text x="290.40" y="454.9" font-size="16" text-anchor="middle">750</text>
<text x="365.60" y="454.9" font-size="16" text-anchor="middle">1000</text>
<text x="440.80" y="454.9" font-size="16" text-anchor="middle">1250</text>
<text x="516.00" y="454.9" font-size="16" text-anchor="middle">1500</text>
<text x="591.20" y="454.9" font-size="16" text-anchor="middle">1750</text>
<text x="666.40" y="454.9" font-size="16" text-anchor="middle">2000</text>
<text x="312" y="491" font-size="20">Energy (keV)</text>
<text transform="translate(18.1 250.5) rotate(-90)" font-size="20">Counts</text>
<text transform="translate(114.40 150.60) rotate(-90)" font-size="16.6">138.3</text>
<text transform="translate(154.70 245.80) rotate(-90)" font-size="16.6">278.6</text>
<text transform="translate(165.70 195.90) rotate(-90)" font-size="16.6">303.7</text>
<text transform="translate(181.20 236.80) rotate(-90)" font-size="16.6">355.4</text>
<text transform="translate(195.60 127.20) rotate(-90)" font-size="16.6">416.9</text>
<text transform="translate(209.90 261.30) rotate(-90)" font-size="16.6">463.2</text>
<text transform="translate(317.10 193.10) rotate(-90)" font-size="16.6">818.7</text>
<text transform="translate(362.50 272.50) rotate(-90)" font-size="16.6">972.6</text>
<text transform="translate(401.10 146.10) rotate(-90)" font-size="16.6">1097.3</text>
<text transform="translate(441.40 264.00) rotate(-90)" font-size="16.6">sum (416.9 + 818.7)</text>
<text transform="translate(459.20 141.20) rotate(-90)" font-size="16.6">1293.6</text>
<text transform="translate(502.00 293.30) rotate(-90)" font-size="16.6">sum (1293.6 + 138.3)</text>
<text transform="translate(524.10 229.20) rotate(-90)" font-size="16.6">1507.6</text>
<text transform="translate(554.80 319.60) rotate(-90)" font-size="16.6">SE 2112.3</text>
<text transform="translate(582.30 279.30) rotate(-90)" font-size="16.6">sum (416.9 + 1293.6)</text>
<text transform="translate(599.60 279.40) rotate(-90)" font-size="16.6">1752.5</text>
</svg>
</body></html>
